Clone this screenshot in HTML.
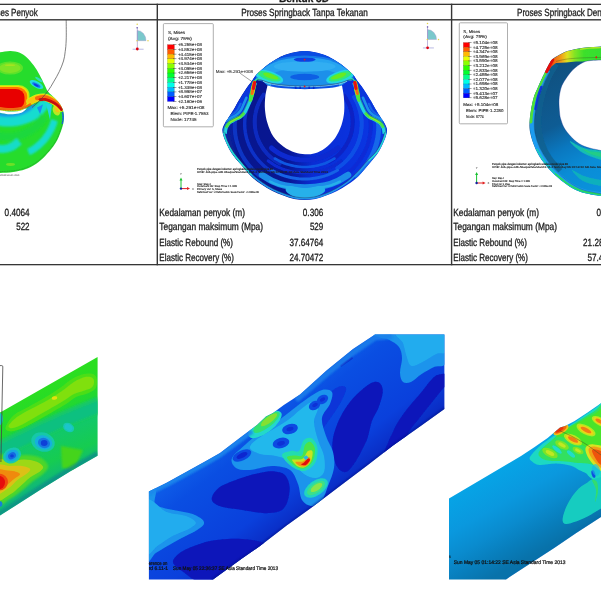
<!DOCTYPE html>
<html lang="id"><head><meta charset="utf-8"><title>Proses Springback</title>
<style>
html,body{margin:0;padding:0;background:#fff;overflow:hidden}
svg{display:block}
text{font-family:"Liberation Sans",sans-serif;text-rendering:geometricPrecision}
</style></head>
<body>
<svg width="601" height="601" viewBox="0 0 601 601">
<defs>
<filter id="b03" x="-10%" y="-10%" width="120%" height="120%"><feGaussianBlur stdDeviation="0.3"/></filter>
<filter id="b05" x="-10%" y="-10%" width="120%" height="120%"><feGaussianBlur stdDeviation="0.5"/></filter>
<filter id="b1" x="-20%" y="-20%" width="140%" height="140%"><feGaussianBlur stdDeviation="1"/></filter>
<filter id="b2" x="-30%" y="-30%" width="160%" height="160%"><feGaussianBlur stdDeviation="2"/></filter>
<filter id="b3" x="-30%" y="-30%" width="160%" height="160%"><feGaussianBlur stdDeviation="3"/></filter>
</defs>
<rect width="601" height="601" fill="#fff"/>
<g id="tbl" fill="#363636">
<rect x="0" y="3.7" width="601" height="1.3"/>
<rect x="0" y="19.1" width="601" height="1.4"/>
<rect x="0" y="264" width="601" height="1.3"/>
<rect x="156.6" y="3.7" width="1.4" height="261.6"/>
<rect x="450.9" y="3.7" width="1.4" height="261.6"/>
</g>
<g id="ttxt" font-family="'Liberation Sans', sans-serif" fill="#1c1c1c" stroke="#1c1c1c" stroke-width="0.3">
<text x="304.5" y="16.2" font-size="10.4" text-anchor="middle" textLength="126.6" lengthAdjust="spacingAndGlyphs" fill="#1a1a1a">Proses Springback Tanpa Tekanan</text>
<text x="37.8" y="16.2" font-size="10.4" text-anchor="end" textLength="53.8" lengthAdjust="spacingAndGlyphs" fill="#1a1a1a">Proses Penyok</text>
<text x="517" y="16.2" font-size="10.4" textLength="130.8" lengthAdjust="spacingAndGlyphs" fill="#1a1a1a">Proses Springback Dengan Tekanan</text>
<text x="279" y="1.6" font-size="10.5" textLength="50" lengthAdjust="spacingAndGlyphs" fill="#1a1a1a" font-weight="bold">Bentuk 3D</text>
<text x="159.3" y="215.5" font-size="10.4" textLength="85.7" lengthAdjust="spacingAndGlyphs" fill="#1a1a1a">Kedalaman penyok (m)</text>
<text x="159.3" y="230.2" font-size="10.4" textLength="103.7" lengthAdjust="spacingAndGlyphs" fill="#1a1a1a">Tegangan maksimum (Mpa)</text>
<text x="159.3" y="245.6" font-size="10.4" textLength="73.7" lengthAdjust="spacingAndGlyphs" fill="#1a1a1a">Elastic Rebound (%)</text>
<text x="159.3" y="260.9" font-size="10.4" textLength="74.6" lengthAdjust="spacingAndGlyphs" fill="#1a1a1a">Elastic Recovery (%)</text>
<text x="453.3" y="215.5" font-size="10.4" textLength="85.7" lengthAdjust="spacingAndGlyphs" fill="#1a1a1a">Kedalaman penyok (m)</text>
<text x="453.3" y="230.2" font-size="10.4" textLength="103.7" lengthAdjust="spacingAndGlyphs" fill="#1a1a1a">Tegangan maksimum (Mpa)</text>
<text x="453.3" y="245.6" font-size="10.4" textLength="73.7" lengthAdjust="spacingAndGlyphs" fill="#1a1a1a">Elastic Rebound (%)</text>
<text x="453.3" y="260.9" font-size="10.4" textLength="74.6" lengthAdjust="spacingAndGlyphs" fill="#1a1a1a">Elastic Recovery (%)</text>
<text x="29.6" y="215.5" font-size="10.4" text-anchor="end" textLength="25" lengthAdjust="spacingAndGlyphs" fill="#1a1a1a">0.4064</text>
<text x="29.6" y="230.2" font-size="10.4" text-anchor="end" textLength="13.4" lengthAdjust="spacingAndGlyphs" fill="#1a1a1a">522</text>
<text x="323.3" y="215.5" font-size="10.4" text-anchor="end" textLength="20.5" lengthAdjust="spacingAndGlyphs" fill="#1a1a1a">0.306</text>
<text x="323.3" y="230.2" font-size="10.4" text-anchor="end" textLength="13.4" lengthAdjust="spacingAndGlyphs" fill="#1a1a1a">529</text>
<text x="323.3" y="245.6" font-size="10.4" text-anchor="end" textLength="33.9" lengthAdjust="spacingAndGlyphs" fill="#1a1a1a">37.64764</text>
<text x="323.3" y="260.9" font-size="10.4" text-anchor="end" textLength="33.9" lengthAdjust="spacingAndGlyphs" fill="#1a1a1a">24.70472</text>
<text x="617" y="215.5" font-size="10.4" text-anchor="end" textLength="20.5" lengthAdjust="spacingAndGlyphs" fill="#1a1a1a">0.254</text>
<text x="617" y="230.2" font-size="10.4" text-anchor="end" textLength="13.4" lengthAdjust="spacingAndGlyphs" fill="#1a1a1a">510</text>
<text x="617" y="245.6" font-size="10.4" text-anchor="end" textLength="33.9" lengthAdjust="spacingAndGlyphs" fill="#1a1a1a">21.28571</text>
<text x="617" y="260.9" font-size="10.4" text-anchor="end" textLength="29.5" lengthAdjust="spacingAndGlyphs" fill="#1a1a1a">57.4468</text>
</g>
<g id="p1">
<clipPath id="c1"><path d="M-6 52.6C-5 52.5 -2.8 52.5 0 52.2C2.8 51.9 7.2 50.9 10.5 51C13.8 51.1 17.1 51.7 19.8 52.8C22.5 53.9 24.5 55.4 26.8 57.5C29.1 59.6 31.7 62.7 33.8 65.6C35.9 68.5 37.9 71.8 39.6 74.9C41.4 78 42.9 81.6 44.3 84.3C45.7 87 46.4 89.3 47.8 91.2C49.1 93.1 50.7 94.2 52.4 95.9C54.1 97.7 56.5 99.6 58.2 101.7C59.9 103.8 61.5 106.2 62.5 108.8C63.5 111.4 64 114.3 64 117.3C64 120.3 63.4 123.3 62.5 126.6C61.6 129.9 60.1 134 58.6 137.3C57.1 140.6 55.4 143.5 53.2 146.6C51 149.7 48.1 153 45.2 155.9C42.3 158.8 39.2 161.7 35.9 163.9C32.6 166.1 29.1 167.9 25.3 169.2C21.5 170.5 17.5 171.3 13.3 171.9C9.1 172.5 3.2 172.7 0 172.9C-3.2 173.1 -5 173 -6 173Z"/></clipPath>
<path d="M-6 52.6C-5 52.5 -2.8 52.5 0 52.2C2.8 51.9 7.2 50.9 10.5 51C13.8 51.1 17.1 51.7 19.8 52.8C22.5 53.9 24.5 55.4 26.8 57.5C29.1 59.6 31.7 62.7 33.8 65.6C35.9 68.5 37.9 71.8 39.6 74.9C41.4 78 42.9 81.6 44.3 84.3C45.7 87 46.4 89.3 47.8 91.2C49.1 93.1 50.7 94.2 52.4 95.9C54.1 97.7 56.5 99.6 58.2 101.7C59.9 103.8 61.5 106.2 62.5 108.8C63.5 111.4 64 114.3 64 117.3C64 120.3 63.4 123.3 62.5 126.6C61.6 129.9 60.1 134 58.6 137.3C57.1 140.6 55.4 143.5 53.2 146.6C51 149.7 48.1 153 45.2 155.9C42.3 158.8 39.2 161.7 35.9 163.9C32.6 166.1 29.1 167.9 25.3 169.2C21.5 170.5 17.5 171.3 13.3 171.9C9.1 172.5 3.2 172.7 0 172.9C-3.2 173.1 -5 173 -6 173Z" fill="#26dc2c"/>
<g clip-path="url(#c1)">
<g filter="url(#b05)">
<ellipse cx="10" cy="68" rx="13" ry="6.6" fill="#5ce22a"/>
<ellipse cx="10" cy="68" rx="10.5" ry="5" fill="#7ee426"/>
<ellipse cx="10" cy="65.2" rx="5" ry="0.9" fill="#a4e420"/>
</g>
<g filter="url(#b1)">
<path d="M46 95C45.8 96.1 45.6 99.3 44.8 101.4C44.1 103.4 42.9 105.5 41.4 107.3C40 109.2 38.1 111 36 112.6C33.9 114.1 31.5 115.6 28.9 116.7C26.3 117.9 23.4 118.9 20.5 119.6C17.5 120.3 14.4 120.7 11.3 120.9C8.2 121.1 5 121 1.9 120.7C-1.1 120.3 -4.2 119.7 -7.1 118.9C-9.9 118 -12.7 116.9 -15.1 115.6C-17.6 114.3 -19.9 112.8 -21.8 111.1C-23.7 109.5 -25.4 107.6 -26.7 105.6C-27.9 103.7 -29 100.5 -29.4 99.5" fill="none" stroke="#16dcd0" stroke-width="11"/>
<path d="M44.3 115.6C43.6 116.7 41.8 119.9 40.3 121.9C38.7 123.8 36.9 125.7 35 127.3C33.1 128.9 31 130.4 28.8 131.6C26.5 132.9 24.1 133.9 21.7 134.8C19.2 135.6 16.7 136.2 14.1 136.6C11.5 136.9 8.9 137.1 6.3 137C3.7 136.9 1 136.5 -1.5 135.9C-4 135.4 -6.5 134.6 -8.9 133.5C-11.3 132.5 -13.6 131.3 -15.7 129.8C-17.8 128.4 -19.7 126.8 -21.5 125C-23.2 123.2 -24.8 121.3 -26.2 119.2C-27.5 117.1 -29 113.7 -29.6 112.7" fill="none" stroke="#1cd83c" stroke-width="8"/>
<path d="M19.2 141.2C18.5 141.8 16.3 143.9 14.7 145C13.1 146 11.4 146.9 9.8 147.5C8.1 148.2 6.3 148.6 4.6 148.8C2.9 149.1 1.1 149.1 -0.6 148.8C-2.3 148.6 -4.1 148.2 -5.8 147.5C-7.4 146.9 -9.1 146 -10.7 145C-12.3 143.9 -13.8 142.7 -15.2 141.2C-16.6 139.8 -18 138.2 -19.2 136.4C-20.4 134.6 -21.6 132.7 -22.6 130.7C-23.6 128.6 -24.5 126.4 -25.2 124.2C-25.9 121.9 -26.5 119.5 -27 117.1C-27.4 114.7 -27.7 111 -27.9 109.7" fill="none" stroke="#14dcc8" stroke-width="8"/>
<path d="M54.5 120.1C54.3 120.7 53.8 122.3 53.5 123.5C53.1 124.6 52.7 125.7 52.2 126.7C51.8 127.8 51.3 128.9 50.7 129.9C50.2 131 49.6 132 49 133C48.4 134 47.8 135 47.1 136C46.4 136.9 45.7 137.9 45 138.8C44.2 139.7 43.5 140.6 42.6 141.5C41.8 142.3 41 143.2 40.1 144C39.3 144.8 38.4 145.6 37.4 146.3C36.5 147 35.5 147.8 34.6 148.5C33.6 149.1 32.6 149.8 31.6 150.4C30.5 151 28.9 151.9 28.4 152.1" fill="none" stroke="#16dcd0" stroke-width="7"/>
<path d="M34.3 103.8C33.9 104.4 32.7 106.1 31.6 107.1C30.5 108.2 29.2 109.2 27.8 110C26.4 110.9 24.7 111.7 23 112.3C21.3 113 19.5 113.6 17.6 114C15.7 114.4 13.7 114.7 11.7 114.9C9.7 115 7.6 115 5.6 114.9C3.5 114.8 1.5 114.6 -0.4 114.2C-2.3 113.8 -4.3 113.3 -6 112.7C-7.7 112.1 -9.4 111.4 -10.9 110.5C-12.4 109.7 -13.8 108.8 -14.9 107.8C-16.1 106.7 -17.1 105.6 -17.9 104.5C-18.6 103.4 -19.3 101.5 -19.6 101" fill="none" stroke="#1494ec" stroke-width="3.5"/>
</g>
<g filter="url(#b05)">
<ellipse cx="10.5" cy="164.5" rx="4.5" ry="1.4" fill="#6ee028"/>
<path d="M37 107.5 L43 104.5 L40 114Z" fill="#1c8cf0"/>
<path d="M46 103.5 L52 104.5 L50 120Z" fill="#22d4e0"/>
<ellipse cx="56.5" cy="110.5" rx="3.6" ry="5.2" fill="#b8e820" transform="rotate(-20 56.5 110.5)"/>
<ellipse cx="57.2" cy="109" rx="2.4" ry="3.4" fill="#f0c418" transform="rotate(-20 57.2 109)"/>
<path d="M62.6 112C62.7 113 63.2 116 63.2 118C63.2 120 62.5 123 62.4 124" fill="none" stroke="#1c70f0" stroke-width="1.6"/>
<rect x="-20" y="85" width="49.5" height="26" rx="11" ry="10" fill="#b4ea14"/>
<rect x="-20" y="86" width="48.4" height="24.5" rx="10.5" ry="9.5" fill="#f4e000"/>
<rect x="-20" y="87" width="47.2" height="23" rx="10" ry="9" fill="#ff7400"/>
<rect x="-20" y="89" width="44.5" height="20" rx="9" ry="8" fill="#e80000"/>
<ellipse cx="36.5" cy="84.5" rx="7.5" ry="3.2" fill="#24dcd8" transform="rotate(28 36.5 84.5)"/>
<ellipse cx="36.3" cy="85" rx="4.6" ry="1.6" fill="#1470f0" transform="rotate(28 36.3 85)"/>
<ellipse cx="36.2" cy="85.2" rx="2.6" ry="0.9" fill="#0a3ce0" transform="rotate(28 36.2 85.2)"/>
<ellipse cx="39" cy="79.5" rx="4.5" ry="1.2" fill="#30dcb8" transform="rotate(35 39 79.5)"/>
<path d="M30 101.5C31.2 101 34.7 98.9 37 98.2C39.3 97.5 41.7 97 44 97.2C46.3 97.4 48.8 98.5 51 99.6C53.2 100.6 55.2 102.1 57 103.5C58.8 104.9 60.8 107.2 61.5 108" fill="none" stroke="#d8ec18" stroke-width="7.5" stroke-linecap="round"/>
<path d="M30 101.5C31.2 101 34.7 98.9 37 98.2C39.3 97.5 41.7 97 44 97.2C46.3 97.4 48.8 98.5 51 99.6C53.2 100.6 55.2 102.1 57 103.5C58.8 104.9 60.8 107.2 61.5 108" fill="none" stroke="#f8c808" stroke-width="5.6" stroke-linecap="round"/>
<path d="M37 98.2C38.2 98 41.7 97 44 97.2C46.3 97.4 48.8 98.5 51 99.6C53.2 100.6 55.2 102.1 57 103.5C58.8 104.9 60.8 107.2 61.5 108" fill="none" stroke="#f86808" stroke-width="4.2" stroke-linecap="round"/>
<path d="M40 99.6C40.8 99.6 43.2 99.1 45 99.4C46.8 99.7 49 100.5 51 101.4C53 102.3 55.2 103.5 57 104.8C58.8 106.1 60.8 108.7 61.5 109.5" fill="none" stroke="#d40808" stroke-width="2.8" stroke-linecap="round"/>
</g>
<path d="M-2 107.8C-0.3 108 4.7 109.1 8 109.2C11.3 109.3 15 109 18 108.6C21 108.2 23.8 107.4 26 106.6C28.2 105.8 30.2 104.4 31 104" fill="none" stroke="#ee6a10" stroke-width="2.2"/>
<path d="M-2 110C-0.7 110.2 3.3 111 6 111.2C8.7 111.4 11.5 111.5 14 111.4C16.5 111.3 18.9 110.9 21 110.4C23.1 109.9 26.3 108.1 26.5 108.4C26.7 108.7 23.9 111.5 22 112.4C20.1 113.3 17.3 113.7 15 114C12.7 114.3 10.8 114.5 8 114.2C5.2 113.9 -0.3 112.6 -2 112.3Z" fill="#fff"/>
<path d="M-2 109.6C-0.3 109.8 4.7 110.5 8 110.6C11.3 110.7 15 110.4 18 110C21 109.6 23.5 109 26 108C28.5 107 30.7 105.3 33 104.2C35.3 103.1 37.7 102 40 101.4C42.3 100.8 44.7 100.5 47 100.8C49.3 101.1 51.9 102.2 54 103.2C56.1 104.2 58.1 105.5 59.5 107C60.9 108.5 62 110.7 62.6 112.5C63.2 114.3 63.1 115.7 62.9 118C62.7 120.3 62.4 123.4 61.5 126.6C60.6 129.8 59.1 134 57.6 137.3C56.1 140.6 54.4 143.4 52.2 146.4C50 149.4 47.1 152.6 44.3 155.4C41.5 158.2 38.4 161 35.2 163.1C32 165.2 28.5 166.9 24.9 168.2C21.2 169.5 17.8 170.2 13.3 170.8C8.8 171.4 0.6 171.6 -2 171.8" fill="none" stroke="#2a3a30" stroke-width="0.5" opacity="0.6" stroke-dasharray="1.2 0.5"/>
</g>
<path d="M66.2 20C66.2 23.3 66.4 34.7 66.2 40C66 45.3 65.7 48.1 65.2 51.6C64.8 55.1 64.5 57.7 63.5 61C62.5 64.3 61 67.9 59.4 71.4C57.8 74.9 55.5 78.6 53.6 81.9C51.7 85.2 50.1 88.1 47.8 91.2C45.5 94.3 42.2 97.9 39.6 100.6C37 103.3 33.3 106.3 32 107.5" fill="none" stroke="#4a4a4a" stroke-width="0.7"/>
</g>
<g id="p2">
<clipPath id="c2"><path d="M304.7 51C308.1 51 311.5 51.5 314.9 52.2C318.3 52.9 321.9 53.9 324.9 55C327.9 56.1 330.3 57.5 332.9 59C335.5 60.5 338.3 62.2 340.7 64C343.1 65.8 345.4 67.8 347.4 69.5C349.4 71.2 351.2 72.6 352.9 74.5C354.6 76.4 356 79.1 357.4 81C358.8 82.9 360.1 84.2 361.4 86C362.7 87.8 363.9 89.7 365.4 92C366.9 94.3 368.7 97.2 370.4 100C372.1 102.8 373.7 106.2 375.4 109C377.1 111.8 378.9 114.7 380.4 117C381.9 119.3 383.3 121 384.4 123C385.5 125 386.6 127 386.9 129C387.2 131 386.8 132.8 386.2 135C385.6 137.2 384.8 139.4 383.4 142.5C382 145.6 380.1 149.8 377.8 153.3C375.5 156.8 372.6 159.7 369.4 163.5C366.2 167.3 362.2 172.5 358.6 176C355 179.5 351.4 182.1 347.8 184.6C344.2 187.1 340.6 189.2 337 191C333.4 192.8 329.7 194.3 326.1 195.6C322.5 196.9 319 198.2 315.4 198.9C311.8 199.6 308.3 200 304.7 200C301.1 200 297.6 199.6 294 198.9C290.4 198.2 286.9 196.9 283.3 195.6C279.7 194.3 276 192.8 272.4 191C268.8 189.2 265.2 187.1 261.6 184.6C258 182.1 254.4 179.5 250.8 176C247.2 172.5 243.2 167.3 240 163.5C236.8 159.7 233.9 156.8 231.6 153.3C229.3 149.8 227.4 145.6 226 142.5C224.6 139.4 223.8 137.2 223.2 135C222.6 132.8 222.2 131 222.5 129C222.8 127 223.9 125 225 123C226.1 121 227.5 119.3 229 117C230.5 114.7 232.3 111.8 234 109C235.7 106.2 237.3 102.8 239 100C240.7 97.2 242.5 94.3 244 92C245.5 89.7 246.7 87.8 248 86C249.3 84.2 250.6 82.9 252 81C253.4 79.1 254.8 76.4 256.5 74.5C258.2 72.6 260 71.2 262 69.5C264 67.8 266.3 65.8 268.7 64C271.1 62.2 273.9 60.5 276.5 59C279.1 57.5 281.5 56.1 284.5 55C287.5 53.9 291.1 52.9 294.5 52.2C297.9 51.5 301.3 51 304.7 51Z"/></clipPath>
<linearGradient id="g2in" x1="222" x2="387" y1="0" y2="0" gradientUnits="userSpaceOnUse"><stop offset="0" stop-color="#0a2ab8"/><stop offset="0.1" stop-color="#08168c"/><stop offset="0.4" stop-color="#081694"/><stop offset="0.55" stop-color="#0a2cd4"/><stop offset="1" stop-color="#0a38e6"/></linearGradient>
<path d="M304.7 51C308.1 51 311.5 51.5 314.9 52.2C318.3 52.9 321.9 53.9 324.9 55C327.9 56.1 330.3 57.5 332.9 59C335.5 60.5 338.3 62.2 340.7 64C343.1 65.8 345.4 67.8 347.4 69.5C349.4 71.2 351.2 72.6 352.9 74.5C354.6 76.4 356 79.1 357.4 81C358.8 82.9 360.1 84.2 361.4 86C362.7 87.8 363.9 89.7 365.4 92C366.9 94.3 368.7 97.2 370.4 100C372.1 102.8 373.7 106.2 375.4 109C377.1 111.8 378.9 114.7 380.4 117C381.9 119.3 383.3 121 384.4 123C385.5 125 386.6 127 386.9 129C387.2 131 386.8 132.8 386.2 135C385.6 137.2 384.8 139.4 383.4 142.5C382 145.6 380.1 149.8 377.8 153.3C375.5 156.8 372.6 159.7 369.4 163.5C366.2 167.3 362.2 172.5 358.6 176C355 179.5 351.4 182.1 347.8 184.6C344.2 187.1 340.6 189.2 337 191C333.4 192.8 329.7 194.3 326.1 195.6C322.5 196.9 319 198.2 315.4 198.9C311.8 199.6 308.3 200 304.7 200C301.1 200 297.6 199.6 294 198.9C290.4 198.2 286.9 196.9 283.3 195.6C279.7 194.3 276 192.8 272.4 191C268.8 189.2 265.2 187.1 261.6 184.6C258 182.1 254.4 179.5 250.8 176C247.2 172.5 243.2 167.3 240 163.5C236.8 159.7 233.9 156.8 231.6 153.3C229.3 149.8 227.4 145.6 226 142.5C224.6 139.4 223.8 137.2 223.2 135C222.6 132.8 222.2 131 222.5 129C222.8 127 223.9 125 225 123C226.1 121 227.5 119.3 229 117C230.5 114.7 232.3 111.8 234 109C235.7 106.2 237.3 102.8 239 100C240.7 97.2 242.5 94.3 244 92C245.5 89.7 246.7 87.8 248 86C249.3 84.2 250.6 82.9 252 81C253.4 79.1 254.8 76.4 256.5 74.5C258.2 72.6 260 71.2 262 69.5C264 67.8 266.3 65.8 268.7 64C271.1 62.2 273.9 60.5 276.5 59C279.1 57.5 281.5 56.1 284.5 55C287.5 53.9 291.1 52.9 294.5 52.2C297.9 51.5 301.3 51 304.7 51Z" fill="url(#g2in)"/>
<g clip-path="url(#c2)">
<g filter="url(#b05)">
<path d="M279.7 163.6C278.7 163 275.8 161.2 274 159.9C272.2 158.5 270.4 157 268.8 155.4C267.2 153.9 265.7 152.2 264.4 150.4C263 148.6 261.8 146.7 260.7 144.8C259.6 142.8 258.6 140.8 257.8 138.7C257 136.7 256.4 134.5 255.9 132.4C255.4 130.2 255 128 254.9 125.8C254.7 123.6 254.7 121.4 254.8 119.2C254.9 117 255.2 114.8 255.7 112.6C256.1 110.5 256.7 108.3 257.5 106.2C258.2 104.2 259.1 102.1 260.2 100.1C261.2 98.2 263.1 95.4 263.7 94.5" fill="none" stroke="#0a2cc0" stroke-width="4" stroke-linecap="round"/>
<path d="M270.3 170.7C269.4 170 266.5 168 264.8 166.6C263.1 165.1 261.4 163.5 259.9 161.9C258.3 160.2 256.9 158.5 255.6 156.7C254.2 154.9 253 153 251.9 151.1C250.8 149.1 249.8 147.1 248.9 145C248.1 143 247.3 140.9 246.7 138.8C246.1 136.6 245.7 134.4 245.3 132.3C245 130.1 244.8 127.9 244.7 125.7C244.7 123.5 244.7 121.2 244.9 119C245.1 116.8 245.5 114.6 245.9 112.5C246.4 110.3 247 108.2 247.7 106.1C248.5 104 249.9 100.9 250.3 99.9" fill="none" stroke="#0a30c8" stroke-width="3.5" stroke-linecap="round"/>
<path d="M259.7 175.8C258.8 175 256.1 172.9 254.5 171.3C252.8 169.7 251.3 168 249.8 166.3C248.3 164.6 246.9 162.8 245.7 160.9C244.4 159.1 243.2 157.1 242.1 155.2C241.1 153.2 240.1 151.2 239.3 149.1C238.4 147.1 237.7 145 237.1 142.8C236.5 140.7 236 138.5 235.6 136.4C235.2 134.2 235 132 234.8 129.8C234.7 127.6 234.7 125.4 234.8 123.2C234.9 121 235.1 118.8 235.4 116.6C235.8 114.4 236.2 112.2 236.8 110.1C237.4 108 238.6 104.8 238.9 103.8" fill="none" stroke="#0c36c4" stroke-width="4" stroke-linecap="round"/>
<path d="M238.9 162C238.4 161.2 236.9 158.7 236.1 157C235.2 155.4 234.4 153.6 233.7 151.9C232.9 150.2 232.3 148.4 231.7 146.6C231.2 144.8 230.7 143 230.3 141.2C229.9 139.3 229.5 137.5 229.3 135.6C229 133.8 228.9 131.9 228.8 130.1C228.7 128.2 228.7 126.3 228.8 124.5C228.8 122.6 229 120.7 229.2 118.9C229.4 117 229.8 115.2 230.2 113.3C230.6 111.5 231 109.7 231.6 107.9C232.1 106.1 232.8 104.3 233.5 102.6C234.2 100.8 235.4 98.3 235.8 97.4" fill="none" stroke="#0a2098" stroke-width="3" stroke-linecap="round"/>
<path d="M344 95.6C344.6 96.5 346.4 99.2 347.4 101.1C348.4 102.9 349.3 104.9 350 106.9C350.8 108.9 351.3 111 351.8 113C352.2 115.1 352.5 117.2 352.6 119.3C352.7 121.4 352.7 123.6 352.5 125.7C352.4 127.8 352 129.9 351.6 132C351.1 134 350.5 136.1 349.7 138C348.9 140 348 142 346.9 143.8C345.9 145.7 344.7 147.5 343.4 149.2C342.1 150.9 340.7 152.5 339.1 154.1C337.6 155.6 335.9 157 334.2 158.3C332.5 159.6 329.6 161.2 328.7 161.8" fill="none" stroke="#0a22c4" stroke-width="4" stroke-linecap="round"/>
<path d="M354.1 97C354.6 98 356.3 100.9 357.2 103C358.1 105 358.9 107.1 359.5 109.3C360.2 111.4 360.7 113.6 361 115.8C361.4 118 361.6 120.2 361.7 122.4C361.7 124.6 361.7 126.9 361.4 129.1C361.2 131.3 360.9 133.5 360.3 135.7C359.8 137.9 359.2 140 358.4 142.1C357.6 144.2 356.7 146.3 355.6 148.2C354.6 150.2 353.4 152.2 352.1 154C350.8 155.8 349.4 157.6 347.8 159.3C346.3 161 344.6 162.6 342.9 164.1C341.2 165.6 338.3 167.5 337.4 168.2" fill="none" stroke="#1050e6" stroke-width="4" stroke-linecap="round"/>
<path d="M364.5 99.8C365 100.8 366.4 103.9 367.2 106.1C368 108.2 368.6 110.4 369.1 112.6C369.7 114.8 370 117 370.3 119.3C370.6 121.5 370.7 123.8 370.7 126C370.7 128.2 370.6 130.5 370.3 132.7C370 135 369.7 137.2 369.1 139.4C368.6 141.6 368 143.8 367.2 145.9C366.4 148.1 365.5 150.2 364.5 152.2C363.5 154.2 362.4 156.2 361.1 158.2C359.9 160.1 358.5 162 357.1 163.7C355.6 165.5 354 167.2 352.4 168.9C350.7 170.5 348 172.7 347.1 173.5" fill="none" stroke="#0a2cd6" stroke-width="4" stroke-linecap="round"/>
<path d="M373.3 101.2C373.7 102.2 375 105.4 375.7 107.5C376.4 109.6 376.9 111.8 377.4 114C377.8 116.2 378.2 118.5 378.4 120.7C378.6 122.9 378.7 125.2 378.7 127.4C378.7 129.6 378.6 131.9 378.3 134.1C378.1 136.3 377.7 138.6 377.2 140.8C376.7 142.9 376.1 145.1 375.4 147.3C374.7 149.4 373.9 151.5 373 153.6C372.1 155.7 371 157.7 369.9 159.7C368.7 161.6 367.5 163.6 366.2 165.4C364.8 167.3 363.4 169.1 361.9 170.8C360.3 172.5 357.8 175 357 175.8" fill="none" stroke="#1468ea" stroke-width="5" stroke-linecap="round"/>
<path d="M337.9 148C337.2 148.6 334.9 150.4 333.3 151.5C331.7 152.6 330 153.6 328.2 154.5C326.4 155.4 324.6 156.2 322.7 156.9C320.8 157.6 318.8 158.1 316.9 158.6C314.9 159.1 312.9 159.4 310.8 159.6C308.8 159.9 306.7 160 304.7 160C302.7 160 300.6 159.9 298.6 159.6C296.5 159.4 294.5 159.1 292.5 158.6C290.6 158.1 288.6 157.6 286.7 156.9C284.8 156.2 283 155.4 281.2 154.5C279.4 153.6 277.7 152.6 276.1 151.5C274.5 150.4 272.2 148.6 271.5 148" fill="none" stroke="#0a2ad0" stroke-width="5" stroke-linecap="round"/>
<path d="M334.5 158.5C333.8 158.9 331.6 160.3 330 161C328.5 161.8 326.9 162.5 325.3 163.2C323.7 163.8 322 164.3 320.3 164.8C318.7 165.3 316.9 165.7 315.2 166C313.5 166.4 311.7 166.6 310 166.8C308.2 166.9 306.5 167 304.7 167C302.9 167 301.2 166.9 299.4 166.8C297.7 166.6 295.9 166.4 294.2 166C292.5 165.7 290.7 165.3 289.1 164.8C287.4 164.3 285.7 163.8 284.1 163.2C282.5 162.5 280.9 161.8 279.4 161C277.8 160.3 275.6 158.9 274.9 158.5" fill="none" stroke="#1058e4" stroke-width="2.6" stroke-linecap="round"/>
<path d="M341.3 160.8C340.5 161.4 337.9 163.3 336 164.4C334.2 165.6 332.3 166.6 330.3 167.5C328.3 168.4 326.3 169.2 324.2 169.9C322.1 170.6 320 171.1 317.8 171.6C315.7 172.1 313.5 172.4 311.3 172.6C309.1 172.9 306.9 173 304.7 173C302.5 173 300.3 172.9 298.1 172.6C295.9 172.4 293.7 172.1 291.6 171.6C289.4 171.1 287.3 170.6 285.2 169.9C283.1 169.2 281.1 168.4 279.1 167.5C277.1 166.6 275.2 165.6 273.4 164.4C271.5 163.3 268.9 161.4 268.1 160.8" fill="none" stroke="#0a2cd0" stroke-width="3" stroke-linecap="round"/>
<path d="M337.6 170.3C336.7 170.8 334.2 172.1 332.5 172.9C330.8 173.7 329 174.5 327.3 175.1C325.5 175.7 323.6 176.3 321.8 176.8C319.9 177.3 318.1 177.7 316.2 178C314.3 178.3 312.4 178.6 310.5 178.8C308.6 178.9 306.6 179 304.7 179C302.8 179 300.8 178.9 298.9 178.8C297 178.6 295.1 178.3 293.2 178C291.3 177.7 289.5 177.3 287.6 176.8C285.8 176.3 283.9 175.7 282.1 175.1C280.4 174.5 278.6 173.7 276.9 172.9C275.2 172.1 272.7 170.8 271.8 170.3" fill="none" stroke="#1262e6" stroke-width="3" stroke-linecap="round"/>
<path d="M262 175C263.7 176 268.2 179.2 272 181C275.8 182.8 279.5 184.4 285 185.5C290.5 186.6 298.3 187.5 305 187.5C311.7 187.5 319.5 186.6 325 185.5C330.5 184.4 334.2 182.8 338 181C341.8 179.2 346.3 176 348 175" fill="none" stroke="#1a8ce8" stroke-width="6.5" stroke-linecap="round"/>
<path d="M289 186C292.2 185.5 299.7 188 305 188C310.3 188 317.7 185.5 321 186C324.3 186.5 325.8 189.2 325 191C324.2 192.8 319.3 195.3 316 196.5C312.7 197.7 308.7 198 305 198C301.3 198 297.2 197.7 294 196.5C290.8 195.3 286.8 192.8 286 191C285.2 189.2 285.8 186.5 289 186Z" fill="#28b0ea"/>
<path d="M270 181.5C271.7 182.2 276.7 184.6 280 185.6C283.3 186.6 288.3 187.3 290 187.6" fill="none" stroke="#28b0ea" stroke-width="2.4" stroke-linecap="round"/>
<path d="M320 187.6C321.7 187.3 326.7 186.6 330 185.6C333.3 184.6 338.3 182.2 340 181.5" fill="none" stroke="#28b0ea" stroke-width="2.4" stroke-linecap="round"/>
</g>
<clipPath id="c2d"><path d="M249.5 87 L251 81 L255.5 74.5 L261 69.5 L267.7 64 L275.5 59 L283.5 55 L293.5 52.2 L304.7 50.6 L315.9 52.2 L325.9 55 L333.9 59 L341.7 64 L348.4 69.5 L353.9 74.5 L358.4 81 L360 87 L353 80 L347 81.5 L342 85.5 L335 87.2 L322 88.6 L305 89.2 L288 88.6 L275 87.2 L267.5 85.5 L263 81.5 L257 80Z"/></clipPath>
<g clip-path="url(#c2d)">
<path d="M249.5 87 L251 81 L255.5 74.5 L261 69.5 L267.7 64 L275.5 59 L283.5 55 L293.5 52.2 L304.7 50.6 L315.9 52.2 L325.9 55 L333.9 59 L341.7 64 L348.4 69.5 L353.9 74.5 L358.4 81 L360 87 L353 80 L347 81.5 L342 85.5 L335 87.2 L322 88.6 L305 89.2 L288 88.6 L275 87.2 L267.5 85.5 L263 81.5 L257 80Z" fill="#0a4ce2"/>
<g filter="url(#b05)">
<ellipse cx="304.7" cy="76" rx="49" ry="20.5" fill="#1478e8"/>
<ellipse cx="304.7" cy="75" rx="44" ry="17.5" fill="#28a4f0"/>
<ellipse cx="304.7" cy="78" rx="36" ry="10" fill="#1e90ea"/>
<ellipse cx="304.7" cy="66.5" rx="31" ry="5.2" fill="#30aef2"/>
<ellipse cx="304.7" cy="59.6" rx="11" ry="2.2" fill="#0a40e0"/>
<ellipse cx="304.7" cy="77" rx="14.5" ry="3.2" fill="#0e5ee4"/>
<path d="M254.2 82.5C254.9 81.9 256.9 79.9 258.7 79C260.4 78.1 263.7 77.3 264.7 77" fill="none" stroke="#2adcb0" stroke-width="3.4" stroke-linecap="round"/>
<ellipse cx="268.7" cy="76.5" rx="15" ry="5.6" fill="#22d6e2" transform="rotate(17 268.7 76.5)"/>
<ellipse cx="269.2" cy="76.3" rx="12" ry="3.8" fill="#30e878" transform="rotate(18 269.2 76.3)"/>
<ellipse cx="270.7" cy="76.2" rx="8" ry="2.3" fill="#68ea24" transform="rotate(19 270.7 76.2)"/>
<path d="M355.2 82.5C354.4 81.9 352.4 79.9 350.7 79C348.9 78.1 345.7 77.3 344.7 77" fill="none" stroke="#2adcb0" stroke-width="3.4" stroke-linecap="round"/>
<ellipse cx="340.7" cy="76.5" rx="15" ry="5.6" fill="#22d6e2" transform="rotate(-17 340.7 76.5)"/>
<ellipse cx="340.2" cy="76.3" rx="12" ry="3.8" fill="#30e878" transform="rotate(-18 340.2 76.3)"/>
<ellipse cx="338.7" cy="76.2" rx="8" ry="2.3" fill="#68ea24" transform="rotate(-19 338.7 76.2)"/>
</g>
</g>
<path d="M271 85C273.3 85.3 279.3 86.5 285 87C290.7 87.5 298.3 87.8 305 87.8C311.7 87.8 319.3 87.5 325 87C330.7 86.5 336.7 85.3 339 85" fill="none" stroke="#0a4ee4" stroke-width="2.8"/>
<path d="M263 81.3C264.3 81.7 267.3 83.1 271 83.9C274.7 84.7 279.3 85.4 285 85.9C290.7 86.4 298.3 86.7 305 86.7C311.7 86.7 319.3 86.4 325 85.9C330.7 85.4 335.3 84.7 339 83.9C342.7 83.1 345.7 81.7 347 81.3" fill="none" stroke="#8adcf0" stroke-width="0.9"/>
<path d="M257 79.2C258 79.4 260.7 79.9 263 80.6C265.3 81.3 267.3 82.4 271 83.2C274.7 84 279.3 84.7 285 85.2C290.7 85.7 298.3 86 305 86C311.7 86 319.3 85.7 325 85.2C330.7 84.7 335.3 84 339 83.2C342.7 82.4 344.7 81.3 347 80.6C349.3 79.9 352 79.4 353 79.2" fill="none" stroke="#2a3a4a" stroke-width="0.45"/>
<rect x="294.9" y="86.6" width="1.6" height="2.4" fill="#0a2cc8"/>
<rect x="299.4" y="86.6" width="1.6" height="2.4" fill="#0a2cc8"/>
<rect x="308.4" y="86.6" width="1.6" height="2.4" fill="#0a2cc8"/>
<rect x="312.9" y="86.6" width="1.6" height="2.4" fill="#0a2cc8"/>
<path d="M256.5 74.5 L252 81 L248 86 L244 92 L239 100 L234 109 L229 117 L225 123 L222.5 129 L223.2 135 L223.5 133 L224.5 127 L228 122 L233 119 L239 116 L243 112 L246 106 L249 99 L251 92 L252.4 86 L254 82Z" fill="#0a36dc"/>
<path d="M225.4 120.8C226.2 120.3 228.6 118.8 230.4 117.8C232.2 116.8 234.7 116 236.4 114.8C238.1 113.6 239.2 112.5 240.4 110.8C241.6 109.1 242.4 107 243.4 104.8C244.4 102.6 245.9 99 246.4 97.8" fill="none" stroke="#1c90ea" stroke-width="2.6" filter="url(#b05)" stroke-linecap="round"/>
<path d="M227.6 116.8C228.6 116.3 231.9 115 233.6 113.8C235.3 112.6 236.4 111.5 237.6 109.8C238.8 108.1 240.1 104.8 240.6 103.8" fill="none" stroke="#1260e6" stroke-width="2.2" filter="url(#b05)" stroke-linecap="round"/>
<path d="M224.9 133.7C225.1 132.7 225.2 129.5 225.9 127.7C226.7 125.9 228 124 229.4 122.7C230.8 121.4 232.6 120.7 234.4 119.7C236.2 118.7 238.7 117.9 240.4 116.7C242.1 115.5 243.2 114.4 244.4 112.7C245.6 111 246.4 108.9 247.4 106.7C248.4 104.5 249.6 102 250.4 99.7C251.2 97.4 251.8 94.9 252.4 92.7C253 90.5 253.3 88.4 253.8 86.7C254.3 85 255.1 83.4 255.4 82.7" fill="none" stroke="#22d0e0" stroke-width="3.8" filter="url(#b03)"/>
<path d="M225.9 127.7C226.5 126.9 228 124 229.4 122.7C230.8 121.4 232.6 120.7 234.4 119.7C236.2 118.7 238.7 117.9 240.4 116.7C242.1 115.5 243.7 113.4 244.4 112.7" fill="none" stroke="#4ce444" stroke-width="2.8" filter="url(#b03)"/>
<path d="M229.4 122.7C230.2 122.2 232.6 120.7 234.4 119.7C236.2 118.7 239.4 117.2 240.4 116.7" fill="none" stroke="#8cea30" stroke-width="1.2" filter="url(#b03)"/>
<path d="M223.5 133C223.7 132 223.8 128.8 224.5 127C225.2 125.2 226.6 123.3 228 122C229.4 120.7 231.2 120 233 119C234.8 118 237.3 117.2 239 116C240.7 114.8 241.8 113.7 243 112C244.2 110.3 245 108.2 246 106C247 103.8 248.2 101.3 249 99C249.8 96.7 250.4 94.2 251 92C251.6 89.8 251.9 87.7 252.4 86C252.9 84.3 253.7 82.7 254 82" fill="none" stroke="#283848" stroke-width="0.45" opacity="0.85"/>
<path d="M352.9 74.5 L357.4 81 L361.4 86 L365.4 92 L370.4 100 L375.4 109 L380.4 117 L384.4 123 L386.9 129 L386.2 135 L385.9 133 L384.9 127 L381.4 122 L376.4 119 L370.4 116 L366.4 112 L363.4 106 L360.4 99 L358.4 92 L357 86 L355.4 82Z" fill="#0a36dc"/>
<path d="M384 120.8C383.2 120.3 380.8 118.8 379 117.8C377.2 116.8 374.7 116 373 114.8C371.3 113.6 370.2 112.5 369 110.8C367.8 109.1 367 107 366 104.8C365 102.6 363.5 99 363 97.8" fill="none" stroke="#1c90ea" stroke-width="2.6" filter="url(#b05)" stroke-linecap="round"/>
<path d="M381.8 116.8C380.8 116.3 377.5 115 375.8 113.8C374.1 112.6 373 111.5 371.8 109.8C370.6 108.1 369.3 104.8 368.8 103.8" fill="none" stroke="#1260e6" stroke-width="2.2" filter="url(#b05)" stroke-linecap="round"/>
<path d="M384.5 133.7C384.3 132.7 384.2 129.5 383.5 127.7C382.8 125.9 381.4 124 380 122.7C378.6 121.4 376.8 120.7 375 119.7C373.2 118.7 370.7 117.9 369 116.7C367.3 115.5 366.2 114.4 365 112.7C363.8 111 363 108.9 362 106.7C361 104.5 359.8 102 359 99.7C358.2 97.4 357.6 94.9 357 92.7C356.4 90.5 356.1 88.4 355.6 86.7C355.1 85 354.3 83.4 354 82.7" fill="none" stroke="#22d0e0" stroke-width="3.8" filter="url(#b03)"/>
<path d="M383.5 127.7C382.9 126.9 381.4 124 380 122.7C378.6 121.4 376.8 120.7 375 119.7C373.2 118.7 370.7 117.9 369 116.7C367.3 115.5 365.7 113.4 365 112.7" fill="none" stroke="#4ce444" stroke-width="2.8" filter="url(#b03)"/>
<path d="M380 122.7C379.2 122.2 376.8 120.7 375 119.7C373.2 118.7 370 117.2 369 116.7" fill="none" stroke="#8cea30" stroke-width="1.2" filter="url(#b03)"/>
<path d="M385.9 133C385.7 132 385.6 128.8 384.9 127C384.1 125.2 382.8 123.3 381.4 122C380 120.7 378.2 120 376.4 119C374.6 118 372.1 117.2 370.4 116C368.7 114.8 367.6 113.7 366.4 112C365.2 110.3 364.4 108.2 363.4 106C362.4 103.8 361.2 101.3 360.4 99C359.6 96.7 359 94.2 358.4 92C357.8 89.8 357.5 87.7 357 86C356.5 84.3 355.7 82.7 355.4 82" fill="none" stroke="#283848" stroke-width="0.45" opacity="0.85"/>
<path d="M223.8 133C224.3 134.4 225.2 138.2 226.6 141.5C228 144.8 230.1 148.9 232.5 152.5C234.9 156.1 237.8 159.4 241 163.2C244.2 166.9 248 171.6 251.6 175C255.2 178.4 258.7 181 262.3 183.5C265.9 186 269.4 188 273 189.8C276.6 191.6 280.3 193.1 283.8 194.4C287.3 195.7 290.7 196.9 294.2 197.6C297.7 198.3 301.3 198.7 304.9 198.7C308.4 198.7 312 198.3 315.5 197.6C319 196.9 322.5 195.8 326 194.4C329.5 193 333.1 191.2 336.7 189.2C340.3 187.2 343.8 185.1 347.4 182.4C350.9 179.7 354.4 176.4 358 172.8C361.6 169.2 365.6 164.2 368.7 160.8C371.8 157.4 374.5 155.7 376.9 152.5C379.2 149.3 381.4 144.8 382.8 141.5C384.2 138.2 385.1 134.4 385.6 133" fill="none" stroke="#1e96ea" stroke-width="1.8"/>
<path d="M223.8 133C224.3 134.4 225.2 138.2 226.6 141.5C228 144.8 230.1 148.9 232.5 152.5C234.9 156.1 237.8 159.4 241 163.2C244.2 166.9 249.8 173 251.6 175" fill="none" stroke="#22d8d0" stroke-width="1.6"/>
<path d="M368.7 160.8C370.1 159.4 374.5 155.7 376.9 152.5C379.2 149.3 381.4 144.8 382.8 141.5C384.2 138.2 385.1 134.4 385.6 133" fill="none" stroke="#22d8d0" stroke-width="1.4"/>
<path d="M224.8 132.1C225.2 133.5 226.1 137.3 227.5 140.6C229 143.8 231 148 233.4 151.6C235.7 155.2 238.6 158.5 241.8 162.3C244.9 166 248.7 170.7 252.2 174.1C255.7 177.5 259.3 180.1 262.8 182.6C266.3 185.1 269.8 187.1 273.4 188.9C276.9 190.7 280.6 192.2 284.1 193.5C287.5 194.8 290.9 196 294.3 196.7C297.8 197.4 301.4 197.8 304.9 197.8C308.4 197.8 311.9 197.4 315.4 196.7C318.8 196 322.3 194.9 325.7 193.5C329.2 192.1 332.8 190.3 336.3 188.3C339.8 186.3 343.4 184.2 346.9 181.5C350.4 178.8 353.9 175.5 357.4 171.9C360.9 168.3 364.8 163.3 367.9 159.9C371 156.5 373.7 154.8 376 151.6C378.4 148.4 380.4 143.8 381.9 140.6C383.3 137.3 384.2 133.5 384.6 132.1" fill="none" stroke="#30405a" stroke-width="0.4"/>
<path d="M254.6 82.6C254.4 83.4 253.8 85.7 253.4 87.5C253 89.3 252.5 91.5 252 93.5C251.5 95.5 250.5 98.5 250.2 99.5" fill="none" stroke="#4ce83c" stroke-width="4.6" stroke-linecap="round" filter="url(#b03)"/>
<path d="M254.6 82.6C254.4 83.4 253.8 85.7 253.4 87.5C253 89.3 252.2 92.5 252 93.5" fill="none" stroke="#f0d020" stroke-width="3.8" stroke-linecap="round" filter="url(#b03)"/>
<path d="M254.6 82.6C254.4 83.4 253.8 85.7 253.4 87.5C253 89.3 252.2 92.5 252 93.5" fill="none" stroke="#f07010" stroke-width="3" stroke-linecap="round"/>
<path d="M254.6 82.6 L253.4 88.3" fill="none" stroke="#e81010" stroke-width="3.2" stroke-linecap="round"/>
<path d="M354.8 82.6C355 83.4 355.6 85.7 356 87.5C356.4 89.3 356.9 91.5 357.4 93.5C357.9 95.5 358.9 98.5 359.2 99.5" fill="none" stroke="#4ce83c" stroke-width="4.6" stroke-linecap="round" filter="url(#b03)"/>
<path d="M354.8 82.6C355 83.4 355.6 85.7 356 87.5C356.4 89.3 357.2 92.5 357.4 93.5" fill="none" stroke="#f0d020" stroke-width="3.8" stroke-linecap="round" filter="url(#b03)"/>
<path d="M354.8 82.6C355 83.4 355.6 85.7 356 87.5C356.4 89.3 357.2 92.5 357.4 93.5" fill="none" stroke="#f07010" stroke-width="3" stroke-linecap="round"/>
<path d="M354.8 82.6 L356 88.3" fill="none" stroke="#e81010" stroke-width="3.2" stroke-linecap="round"/>
</g>
<path d="M342 85.5C342.3 87.3 343.4 92.2 343.8 96.6C344.2 100.9 344.6 106.9 344.2 111.6C343.8 116.3 343 120.6 341.5 125C340 129.4 337.8 134.3 335 138.2C332.2 142.1 328.3 145.7 325 148.2C321.7 150.7 318.3 152.2 315 153.2C311.7 154.2 308.3 154.4 305 154.3C301.7 154.2 298.6 153.9 295 152.6C291.4 151.3 286.9 149.3 283.3 146.6C279.7 143.9 275.9 140.5 273.3 136.6C270.7 132.7 268.9 127.7 267.5 123.3C266.1 118.9 265.4 114.5 265 110C264.6 105.5 264.9 100.7 265.3 96.6C265.7 92.5 267.1 87.3 267.5 85.5L267.5 85.5C268.8 85.8 271.6 86.7 275 87.2C278.4 87.7 283 88.3 288 88.6C293 88.9 299.3 89.2 305 89.2C310.7 89.2 317 88.9 322 88.6C327 88.3 331.7 87.7 335 87.2C338.3 86.7 340.8 85.8 342 85.5Z" fill="#fff"/>
<circle cx="304.6" cy="59.6" r="0.9" fill="#e81818"/>
<circle cx="304.6" cy="86.4" r="0.9" fill="#e81818"/>
</g>
<g id="p3">
<clipPath id="c3"><path d="M612 46C610.2 46.1 605.3 46.2 601 46.5C596.7 46.8 590.2 47.1 586 47.5C581.8 47.9 579.3 48.3 576 49C572.7 49.7 568.8 50.5 566 51.5C563.2 52.5 561.3 53.7 559 55C556.7 56.3 553.8 57.7 552 59.5C550.2 61.3 549.2 63.9 548 66C546.8 68.1 546.6 68.6 545 72C543.4 75.4 540.3 81.9 538.3 86.6C536.3 91.3 534.4 94.4 533 100C531.6 105.6 530.2 114.5 529.7 120C529.2 125.5 529.3 128.4 530.3 133.3C531.3 138.2 533.4 144.4 535.6 149.3C537.8 154.2 540.5 158.4 543.6 162.6C546.7 166.8 550.3 170.8 554.3 174.6C558.3 178.4 563.2 182.3 567.6 185.2C572 188.1 575.3 190.1 580.9 191.9C586.5 193.7 595.8 195.2 601 195.9C606.2 196.7 610.2 196.3 612 196.4Z"/></clipPath>
<linearGradient id="g3in" x1="540" y1="70" x2="601" y2="190" gradientUnits="userSpaceOnUse"><stop offset="0" stop-color="#10507e"/><stop offset="0.42" stop-color="#0e5c94"/><stop offset="0.6" stop-color="#0a78c0"/><stop offset="0.78" stop-color="#0a8cd6"/><stop offset="1" stop-color="#0a92dc"/></linearGradient>
<path d="M612 46C610.2 46.1 605.3 46.2 601 46.5C596.7 46.8 590.2 47.1 586 47.5C581.8 47.9 579.3 48.3 576 49C572.7 49.7 568.8 50.5 566 51.5C563.2 52.5 561.3 53.7 559 55C556.7 56.3 553.8 57.7 552 59.5C550.2 61.3 549.2 63.9 548 66C546.8 68.1 546.6 68.6 545 72C543.4 75.4 540.3 81.9 538.3 86.6C536.3 91.3 534.4 94.4 533 100C531.6 105.6 530.2 114.5 529.7 120C529.2 125.5 529.3 128.4 530.3 133.3C531.3 138.2 533.4 144.4 535.6 149.3C537.8 154.2 540.5 158.4 543.6 162.6C546.7 166.8 550.3 170.8 554.3 174.6C558.3 178.4 563.2 182.3 567.6 185.2C572 188.1 575.3 190.1 580.9 191.9C586.5 193.7 595.8 195.2 601 195.9C606.2 196.7 610.2 196.3 612 196.4Z" fill="url(#g3in)"/>
<g clip-path="url(#c3)">
<g filter="url(#b05)">
<path d="M556 64C554.8 66 551.2 71.3 549 76C546.8 80.7 544.7 86.3 543 92C541.3 97.7 539.8 104 539 110C538.2 116 538 122.3 538.5 128C539 133.7 540.2 139 542 144C543.8 149 546 153.5 549 158C552 162.5 558.2 168.8 560 171" fill="none" stroke="#12608e" stroke-width="6" opacity="0.8"/>
<path d="M570 141C570.8 140.9 576.7 145.1 580 146.5C583.3 147.9 584.7 148.6 590 149.5C595.3 150.4 608.3 149.9 612 152C615.7 154.1 614.3 160.8 612 162C609.7 163.2 602.7 160.4 598 159C593.3 157.6 587.8 155.5 584 153.5C580.2 151.5 577.3 149.1 575 147C572.7 144.9 569.2 141.1 570 141Z" fill="#12bcb4"/>
<path d="M582 148.5C582.7 148.2 587 150.6 592 151.5C597 152.4 608.7 152.8 612 154C615.3 155.2 614.3 158.6 612 159C609.7 159.4 602 157.6 598 156.6C594 155.6 590.7 154.3 588 153C585.3 151.7 581.3 148.8 582 148.5Z" fill="#20cc88"/>
<path d="M572 170C572.3 169.2 579.7 174.4 584 176C588.3 177.6 593.3 178.7 598 179.5C602.7 180.3 609.7 179.8 612 181C614.3 182.2 614.7 186.3 612 187C609.3 187.7 601 186.1 596 185C591 183.9 586 183 582 180.5C578 178 571.7 170.8 572 170Z" fill="#10b0bc"/>
<path d="M566 182C566.7 181.5 573.7 186.4 578 188C582.3 189.6 586.3 190.7 592 191.6C597.7 192.5 608.7 192.3 612 193.5C615.3 194.7 615.7 198.4 612 199C608.3 199.6 596.3 198.3 590 197C583.7 195.7 578 193.5 574 191C570 188.5 565.3 182.5 566 182Z" fill="#22cc70"/>
</g>
<path d="M548.2 70C547.3 71.8 544.5 77 542.7 81C541 85 539.2 89.5 537.7 94C536.2 98.5 534.6 103.5 533.7 108C532.8 112.5 532.4 116.8 532.2 121C532.1 125.2 531.9 128.7 532.8 133.3C533.7 137.9 535.6 144.1 537.8 148.8C540 153.6 542.7 157.7 545.8 161.8C548.9 166 552.5 170 556.4 173.7C560.4 177.4 565.1 181.3 569.5 184.2C573.9 187 577 189 582.5 190.8C588 192.6 598.9 194.1 602.2 194.8" fill="none" stroke="#1c9cf0" stroke-width="4.4"/>
<path d="M536.6 148.8C537.9 151 541.5 157.7 544.6 161.8C547.7 166 551.2 170 555.2 173.7C559.2 177.4 563.9 181.3 568.3 184.2C572.6 187 575.8 189 581.3 190.8C586.8 192.6 597.7 194.1 601 194.8" fill="none" stroke="#18c8c0" stroke-width="1.8"/>
<path d="M555.2 173.7C557.4 175.4 563.9 181.3 568.3 184.2C572.6 187 575.8 189 581.3 190.8C586.8 192.6 597.7 194.1 601 194.8" fill="none" stroke="#28d860" stroke-width="1.6"/>
<path d="M545.6 72.5C544.5 74.8 541.2 81.4 539.3 86C537.4 90.6 535.5 95.3 534.2 100C532.9 104.7 532 110.3 531.4 114C530.8 117.7 530.9 120.7 530.8 122" fill="none" stroke="#50e038" stroke-width="3.2" filter="url(#b05)" stroke-linecap="round"/>
<path d="M541.4 87C540.8 88.7 539 93.3 538 97C537 100.7 536 107 535.6 109" fill="none" stroke="#0c38e0" stroke-width="2.6" stroke-linecap="round"/>
<path d="M550.4 69.6C549.5 71.4 546.6 76.6 544.9 80.6C543.1 84.6 541.4 89.1 539.9 93.6C538.4 98.1 536.8 103.1 535.9 107.6C535 112.1 534.5 116.4 534.4 120.6C534.2 124.8 534.1 128.3 535 132.9C535.9 137.5 537.8 143.7 540 148.4C542.2 153.2 544.9 157.2 548 161.4C551.1 165.6 554.7 169.6 558.6 173.3C562.5 177 567.3 180.9 571.7 183.8C576 186.6 579.2 188.6 584.7 190.4C590.1 192.2 601.1 193.7 604.4 194.4" fill="none" stroke="#24404c" stroke-width="0.4" opacity="0.7"/>
<linearGradient id="g3b" x1="548" y1="0" x2="601" y2="0" gradientUnits="userSpaceOnUse"><stop offset="0" stop-color="#e81010"/><stop offset="0.1" stop-color="#f05c10"/><stop offset="0.25" stop-color="#f0a018"/><stop offset="0.36" stop-color="#e0e020"/><stop offset="0.5" stop-color="#84e424"/><stop offset="0.68" stop-color="#3ce02c"/><stop offset="1" stop-color="#34de30"/></linearGradient>
<path d="M612 46 L601 46.5 L586 47.5 L576 49 L566 51.5 L559 55 L552 59.5 L548 66 L545 72 L547.6 72.5 L551.5 66.5 L556 63 L566 62.5 L576 61.6 L584 61.6 L591 60.6 L601 60 L612 59.8Z" fill="url(#g3b)" filter="url(#b03)"/>
<path d="M580 49.2C581.7 49 586.5 48.3 590 48C593.5 47.7 599.2 47.4 601 47.3" fill="none" stroke="#a8e428" stroke-width="1.6" filter="url(#b05)"/>
<path d="M552.6 60C552.1 60.9 550.4 63.6 549.4 65.5C548.4 67.4 547.1 70.6 546.6 71.6" fill="none" stroke="#e40c0c" stroke-width="3.2" stroke-linecap="round"/>
<path d="M556 61.4C557.7 61 562 59.8 566 59.2C570 58.6 574.2 58.3 580 58C585.8 57.7 597.5 57.5 601 57.4" fill="none" stroke="#3a4a20" stroke-width="0.45" opacity="0.75"/>
</g>
<path d="M612 59.8C610.2 59.8 604.5 59.9 601 60C597.5 60.1 593.8 60.2 591 60.5C588.2 60.8 586.5 60.9 584 62C581.5 63.1 578.3 65.2 576 67C573.7 68.8 571.8 70.8 570 73C568.2 75.2 566.5 77.5 565 80C563.5 82.5 562 84.7 561 88C560 91.3 559.2 95.8 559 100C558.8 104.2 559.3 109.9 559.6 113.2C559.9 116.5 560.1 117.3 561 120C561.9 122.7 562.8 126 565 129.3C567.2 132.6 571 137.1 574.3 140C577.6 142.9 580.5 144.8 585 146.6C589.5 148.4 596.5 149.8 601 150.6C605.5 151.4 610.2 151.3 612 151.4Z" fill="#fff"/>
<path d="M601 60C599.3 60.1 593.8 60.2 591 60.5C588.2 60.8 586.5 60.9 584 62C581.5 63.1 578.3 65.2 576 67C573.7 68.8 571.8 70.8 570 73C568.2 75.2 566.5 77.5 565 80C563.5 82.5 562 84.7 561 88C560 91.3 559.2 95.8 559 100C558.8 104.2 559.3 109.9 559.6 113.2C559.9 116.5 560.1 117.3 561 120C561.9 122.7 562.8 126 565 129.3C567.2 132.6 571 137.1 574.3 140C577.6 142.9 580.5 144.8 585 146.6C589.5 148.4 598.3 149.9 601 150.6" fill="none" stroke="#0a2a90" stroke-width="0.5" opacity="0.7"/>
<ellipse cx="596.3" cy="57.3" rx="0.7" ry="1.3" fill="#e81818"/>
</g>
<g id="p4">
<clipPath id="c4"><path d="M-4 414.8 L3.7 410.4 L45.8 386.6 L97.6 357 L97.6 455.7 L70 471.5 L40 490 L15 506 L-4 518Z"/></clipPath>
<linearGradient id="g4" x1="40" y1="390" x2="75" y2="470" gradientUnits="userSpaceOnUse"><stop offset="0" stop-color="#2ade20"/><stop offset="0.3" stop-color="#22d830"/><stop offset="0.55" stop-color="#12c868"/><stop offset="0.8" stop-color="#16cc50"/><stop offset="1" stop-color="#10b878"/></linearGradient>
<path d="M-4 414.8 L3.7 410.4 L45.8 386.6 L97.6 357 L97.6 455.7 L70 471.5 L40 490 L15 506 L-4 518Z" fill="url(#g4)"/>
<g clip-path="url(#c4)">
<g filter="url(#b1)">
<path d="M-4 452C0 450 11.8 444 20 440C28.2 436 36.7 431.8 45 428C53.3 424.2 60.8 420.8 70 417C79.2 413.2 95 407 100 405" fill="none" stroke="#14c868" stroke-width="17"/>
<path d="M-4 453C0 451 11.8 445 20 441C28.2 437 36.7 432.8 45 429C53.3 425.2 60.8 421.8 70 418C79.2 414.2 95 408 100 406" fill="none" stroke="#10c080" stroke-width="11"/>
</g>
<g filter="url(#b05)">
<path d="M6 426C7.2 423.4 10 418.3 14 415C18 411.7 24.7 409 30 406C35.3 403 41 400 46 397C51 394 55.7 391 60 388C64.3 385 68 381.3 72 379C76 376.7 80.3 374.8 84 374C87.7 373.2 91.8 373.3 94 374.5C96.2 375.7 96.8 378.6 97 381C97.2 383.4 96.8 386.8 95 389C93.2 391.2 89.2 392.7 86 394C82.8 395.3 79.3 395.3 76 397C72.7 398.7 69.7 401.7 66 404C62.3 406.3 58.3 408.5 54 411C49.7 413.5 44.7 416.4 40 419C35.3 421.6 30.3 424.5 26 426.5C21.7 428.5 17.2 430.3 14 431C10.8 431.7 8.3 431.3 7 430.5C5.7 429.7 4.8 428.6 6 426Z" fill="#4cde18"/>
<path d="M9 425C10.2 423.2 13.2 419.8 17 417C20.8 414.2 26.8 411.3 32 408.5C37.2 405.7 43 402.9 48 400C53 397.1 57.7 394 62 391C66.3 388 70.2 384.3 74 382C77.8 379.7 81.9 377.7 85 377C88.1 376.3 91 377 92.5 378C94 379 94.2 381.3 94 383C93.8 384.7 92.8 386.7 91 388C89.2 389.3 85.8 390 83 391C80.2 392 77.2 392.4 74 394C70.8 395.6 67.7 398.2 64 400.5C60.3 402.8 56.3 405 52 407.5C47.7 410 42.5 412.9 38 415.5C33.5 418.1 28.8 421 25 423C21.2 425 17.5 426.7 15 427.5C12.5 428.3 11 428.4 10 428C9 427.6 7.8 426.8 9 425Z" fill="#80e010"/>
</g>
<g filter="url(#b1)">
<path d="M61 446 L83 450 L74 470 L62 468Z" fill="#44d41c"/>
<path d="M-6 457C-3.3 448.9 4.7 456.8 10 456.5C15.3 456.2 21 454.8 26 455C31 455.2 36.3 455.8 40 457.5C43.7 459.2 47.3 462.9 48 465.5C48.7 468.1 46.5 470.4 44 473C41.5 475.6 36.7 478.1 33 481C29.3 483.9 25.8 487.5 22 490.5C18.2 493.5 14.7 496.6 10 499C5.3 501.4 -3.3 512 -6 505C-8.7 498 -8.7 465.1 -6 457Z" fill="#4cd62c"/>
</g>
<g filter="url(#b05)">
<path d="M-6 461.5C-3.3 455 5 461.3 10 461C15 460.7 19.7 459.4 24 459.5C28.3 459.6 32.8 460.3 36 461.5C39.2 462.7 42.3 464.8 43 466.5C43.7 468.2 42.2 469.7 40 471.5C37.8 473.3 33.3 475 30 477.5C26.7 480 23.3 483.7 20 486.5C16.7 489.3 14.3 492.2 10 494.5C5.7 496.8 -3.3 505.5 -6 500C-8.7 494.5 -8.7 468 -6 461.5Z" fill="#9cd818"/>
<path d="M-6 466.5C-3.3 461.8 5.3 466.1 10 466C14.7 465.9 18.7 465.5 22 466C25.3 466.5 29.2 467.6 30 468.8C30.8 470.1 29 471.7 27 473.5C25 475.3 21.2 477 18 479.5C14.8 482 12 486.1 8 488.5C4 490.9 -3.7 497.7 -6 494C-8.3 490.3 -8.7 471.2 -6 466.5Z" fill="#dcc014"/>
<path d="M-6 470.5C-3.7 467.1 4.3 470.3 8 470.5C11.7 470.7 14 471.1 16 471.8C18 472.5 20.3 473.3 20 474.5C19.7 475.7 16.3 477.2 14 479C11.7 480.8 9.3 483.5 6 485.5C2.7 487.5 -4 493.5 -6 491C-8 488.5 -8.3 473.9 -6 470.5Z" fill="#f08a10"/>
</g>
<g filter="url(#b05)">
<ellipse cx="-1" cy="482" rx="9" ry="8.6" fill="#f04810"/>
<ellipse cx="-2" cy="482.5" rx="7" ry="7" fill="#e60808"/>
<ellipse cx="54.5" cy="398" rx="2.8" ry="1.7" fill="#e4e010" transform="rotate(-10 54.5 398)"/>
<ellipse cx="68.6" cy="427.5" rx="5.8" ry="4.4" fill="#16c8b4" transform="rotate(30 68.6 427.5)"/>
<ellipse cx="68.6" cy="427.5" rx="4" ry="3" fill="#1cc4cc" transform="rotate(30 68.6 427.5)"/>
<ellipse cx="43" cy="442" rx="12" ry="9.5" fill="#14c8a8" transform="rotate(20 43 442)"/>
<ellipse cx="43.5" cy="442.5" rx="9" ry="7" fill="#18b0dc" transform="rotate(20 43.5 442.5)"/>
<ellipse cx="44" cy="443" rx="6.2" ry="5" fill="#1478e0" transform="rotate(20 44 443)"/>
<ellipse cx="44.2" cy="443" rx="3.4" ry="3" fill="#1040d8"/>
<ellipse cx="12" cy="455.5" rx="9.5" ry="7.5" fill="#14c8b0" transform="rotate(-30 12 455.5)"/>
<ellipse cx="12" cy="455.5" rx="7" ry="5.4" fill="#18a8e0" transform="rotate(-30 12 455.5)"/>
<ellipse cx="12" cy="455.8" rx="4.2" ry="3.2" fill="#1468e0" transform="rotate(-30 12 455.8)"/>
<ellipse cx="12" cy="456" rx="1.8" ry="1.4" fill="#1040d8"/>
<ellipse cx="-1" cy="504" rx="3.5" ry="3" fill="#1480d8"/>
<ellipse cx="0" cy="419" rx="3" ry="6" fill="#18c8c0"/>
</g>
<path d="M-4 516 L15 504 L40 488 L70 469.5 L97.6 453.7" fill="none" stroke="#0a8a88" stroke-width="5" filter="url(#b1)" opacity="0.75"/>
</g>
<path d="M-1 365.6 H1.8 Q2.8 365.6 2.8 366.8 L0.9 462" fill="none" stroke="#444" stroke-width="0.8"/>
</g>
<g id="p5">
<clipPath id="c5"><path d="M148.9 491.4 L166.6 482.7 L188.3 470.8 L207.7 460 L220 453 L241 437 L257 425 L266 416.5 L273 413 L283.8 405 L300 394.5 L326.5 370.6 L353 349 L375 334.4 L444.4 334.4 L444.4 409 L420 426.5 L393 445.5 L366.5 466 L340 486 L313 506.5 L286.6 525.5 L260 546 L242.3 558.3 L213 579.4 L148.9 579.4Z"/></clipPath>
<linearGradient id="g5" x1="270" y1="405" x2="335" y2="490" gradientUnits="userSpaceOnUse"><stop offset="0" stop-color="#0e5ce8"/><stop offset="0.2" stop-color="#0a4ee2"/><stop offset="0.75" stop-color="#0a40dc"/><stop offset="1" stop-color="#0a2cc4"/></linearGradient>
<path d="M148.9 491.4 L166.6 482.7 L188.3 470.8 L207.7 460 L220 453 L241 437 L257 425 L266 416.5 L273 413 L283.8 405 L300 394.5 L326.5 370.6 L353 349 L375 334.4 L444.4 334.4 L444.4 409 L420 426.5 L393 445.5 L366.5 466 L340 486 L313 506.5 L286.6 525.5 L260 546 L242.3 558.3 L213 579.4 L148.9 579.4Z" fill="url(#g5)"/>
<g clip-path="url(#c5)">
<g filter="url(#b05)">
<path d="M372 332C383 331.1 433.7 326.9 446 332C458.3 337.1 447.9 356.6 446 362.4C444.1 368.2 438.7 364.9 434.6 366.8C430.6 368.7 425.6 371.5 421.7 374C417.8 376.5 414.1 380.7 411 382C407.9 383.3 404.8 383.5 403 382C401.2 380.5 400.2 377 400 373C399.8 369 402.2 362.3 402 358C401.8 353.7 401.2 350.1 399 347C396.8 343.9 392.2 341.3 389 339.7C385.8 338.1 382.8 338.8 380 337.5C377.2 336.2 361 332.9 372 332Z" fill="#1a94ec"/>
<path d="M398 332C405.2 330.2 438 328.7 446 332C454 335.3 447.5 348 446 351.6C444.5 355.2 440.9 352 436.8 353.8C432.8 355.6 426 360.4 421.7 362.4C417.4 364.4 413.5 366.8 411 365.7C408.5 364.6 407.8 359.8 406.5 356C405.2 352.2 404.4 347 403 343C401.6 339 390.8 333.8 398 332Z" fill="#24acee"/>
<path d="M146 489C147.6 477.6 154.4 487.1 155.8 489.5C157.2 491.9 153.6 500.3 154.7 503.3C155.8 506.3 158.5 506.4 162.3 507.6C166.1 508.9 172.4 509.7 177.4 510.8C182.4 511.9 188.4 512.5 192.6 514C196.8 515.5 200.5 517.7 202.3 519.5C204.1 521.3 204.7 523 203.4 525C202.2 527 198.4 529.2 194.8 531.4C191.2 533.5 186.5 535.4 181.8 537.9C177.1 540.4 170.9 544 166.6 546.5C162.3 549 159.2 551.1 155.8 553C152.4 554.9 147.6 568.7 146 558C144.4 547.3 144.4 500.4 146 489Z" fill="#1a94ec"/>
<path d="M146 501C149.4 494.3 159.9 509.5 166.6 512C173.3 514.5 181.1 514.2 186 516C190.9 517.8 195.4 520.5 195.8 522.7C196.2 524.9 192.1 527 188.3 529.2C184.5 531.4 178.1 533 173 535.7C167.9 538.4 162.5 542.7 158 545.4C153.5 548.1 148 559.4 146 552C144 544.6 142.6 507.7 146 501Z" fill="#24acee"/>
<path d="M212 497C212.7 494.4 215.2 490.6 218.5 488C221.8 485.4 226.8 483.6 231.5 481.6C236.2 479.6 241.6 477.7 246.7 476.2C251.8 474.7 257.1 473.3 261.8 472.5C266.5 471.7 271.1 471.1 275 471.5C278.9 471.9 282.6 472.6 285 475C287.4 477.4 289 481.8 289.5 486C290 490.2 289.2 496 288 500C286.8 504 285 507.8 282 510C279 512.2 274.1 512.6 270 513C265.9 513.4 262.2 512.9 257.5 512.4C252.8 511.9 247.4 510.8 242 510C236.6 509.2 229.6 508.7 225 507.6C220.4 506.5 216.4 505.1 214.2 503.3C212 501.5 211.3 499.6 212 497Z" fill="#0a16ba"/>
<path d="M173 562.5C172.3 559.2 176.3 555.7 179.6 553C182.9 550.3 187.5 548.5 192.6 546.5C197.7 544.5 204.2 542.2 210 541C215.8 539.8 221.8 539.3 227.2 539C232.6 538.7 237.2 538.7 242.3 539C247.4 539.3 253.4 540 257.5 541C261.6 542 266.9 543 267 545C267.1 547 262.5 549.5 258 553C253.5 556.5 247 561.2 240 566C233 570.8 222.8 579.3 216 582C209.2 584.7 204.3 583.6 199 582C193.7 580.4 188.3 575.8 184 572.5C179.7 569.2 173.7 565.8 173 562.5Z" fill="#0a16ba"/>
<path d="M380.6 384C379.2 382.2 376.9 381.3 374 382C371.1 382.7 367.2 385.2 363.3 388.4C359.4 391.6 354.3 396.3 350.3 401.4C346.3 406.4 342.4 412.6 339.5 418.7C336.6 424.8 334.1 431.9 333 438C331.9 444.1 332.2 450 333 455C333.8 460 335.8 465.2 338 468C340.2 470.8 343.3 472.7 346 472C348.7 471.3 351.5 467.3 354 464C356.5 460.7 358.7 456.3 361 452C363.3 447.7 365.8 443.2 367.6 438C369.4 432.8 370.2 425.8 372 420.8C373.8 415.8 376.6 412.6 378.4 407.9C380.2 403.2 382.3 396.7 382.7 392.7C383.1 388.7 382.1 385.8 380.6 384Z" fill="#0a16ba"/>
<path d="M440 374.3C437.6 374.9 435.9 375.2 432.5 378.5C429.1 381.8 424 389.1 419.9 394C415.8 398.9 411.6 403.3 407.9 408C404.2 412.7 400.6 417.7 397.9 422C395.2 426.3 393.7 430.2 391.9 434C390.1 437.8 388.5 441.2 387 445C385.5 448.8 382.8 454.8 383 457C383.2 459.2 385.5 460.2 388 458.5C390.5 456.8 395 450.4 398 447C401 443.6 403.9 440.8 405.9 438C407.9 435.2 407.9 433 409.9 430C411.9 427 415.2 423.3 417.9 420C420.5 416.7 423.1 413.3 425.8 410C428.5 406.7 431.1 403.3 433.8 400C436.5 396.7 439.6 392.7 441.8 390C444 387.3 446.1 386.5 447 384C447.9 381.5 448.2 376.6 447 375C445.8 373.4 442.4 373.7 440 374.3Z" fill="#0a16ba"/>
<path d="M300 432C301.5 427.2 306 419.7 310 414C314 408.3 319.3 402.5 324 398C328.7 393.5 334.3 388.7 338 387C341.7 385.3 345.3 385.8 346 388C346.7 390.2 344.3 395.3 342 400C339.7 404.7 335.7 410.7 332 416C328.3 421.3 324 427.3 320 432C316 436.7 311.2 442.2 308 444C304.8 445.8 302.3 445 301 443C299.7 441 298.5 436.8 300 432Z" fill="#0a34d8"/>
<path d="M340 365 L352 356.5 L353 358.5 L341 367Z" fill="#0a28c8"/>
</g>
<g filter="url(#b05)">
<path d="M232 458C233.7 454 241.7 448 246 444C250.3 440 253.3 437.3 258 434C262.7 430.7 268.3 428 274 424C279.7 420 286.3 414.3 292 410C297.7 405.7 303 401.3 308 398C313 394.7 318 391 322 390C326 389 330.7 389.7 332 392C333.3 394.3 331.7 399.7 330 404C328.3 408.3 322.7 412.7 322 418C321.3 423.3 324.2 430.3 326 436C327.8 441.7 331.7 446.7 333 452C334.3 457.3 334.8 462.3 334 468C333.2 473.7 330 480.7 328 486C326 491.3 324.7 496.7 322 500C319.3 503.3 315.3 506 312 506C308.7 506 304.3 503.7 302 500C299.7 496.3 300 489 298 484C296 479 294.3 473 290 470C285.7 467 278.7 466 272 466C265.3 466 256 469.7 250 470C244 470.3 239 470 236 468C233 466 230.3 462 232 458Z" fill="#1a94ec"/>
<path d="M256 440C259.7 437 266.7 433.3 272 430C277.3 426.7 283.3 423.3 288 420C292.7 416.7 296 413 300 410C304 407 309 402.3 312 402C315 401.7 317.7 404.7 318 408C318.3 411.3 314 416.7 314 422C314 427.3 316.3 434.3 318 440C319.7 445.7 323 450.7 324 456C325 461.3 325.3 468.3 324 472C322.7 475.7 319.3 477.7 316 478C312.7 478.3 308 476.7 304 474C300 471.3 296.7 465 292 462C287.3 459 281.3 457.3 276 456C270.7 454.7 264.3 455.3 260 454C255.7 452.7 250.7 450.3 250 448C249.3 445.7 252.3 443 256 440Z" fill="#24b8ec"/>
<ellipse cx="265" cy="424.5" rx="20" ry="8" fill="#22d8cc" transform="rotate(-37 265 424.5)"/>
<ellipse cx="266.5" cy="422.3" rx="16" ry="5.4" fill="#34e070" transform="rotate(-37 266.5 422.3)"/>
<ellipse cx="269" cy="419.8" rx="10" ry="3.2" fill="#84e030" transform="rotate(-37 269 419.8)"/>
<ellipse cx="290" cy="429" rx="8" ry="5" fill="#0a4ae2" transform="rotate(-15 290 429)"/>
<ellipse cx="281" cy="443" rx="8.5" ry="5.2" fill="#0a4ae2" transform="rotate(-15 281 443)"/>
<ellipse cx="314.5" cy="405.5" rx="6" ry="4.4" fill="#0a4ae2" transform="rotate(-30 314.5 405.5)"/>
<ellipse cx="322.5" cy="399.5" rx="6" ry="4.2" fill="#0a4ae2" transform="rotate(-30 322.5 399.5)"/>
<ellipse cx="242" cy="455.5" rx="10" ry="5" fill="#0a4ae2" transform="rotate(-25 242 455.5)"/>
<ellipse cx="242" cy="455.5" rx="6" ry="2.6" fill="#0828d0" transform="rotate(-25 242 455.5)"/>
<ellipse cx="290" cy="429" rx="3.6" ry="2" fill="#0a30d6" transform="rotate(-15 290 429)"/>
<ellipse cx="281" cy="443.4" rx="4" ry="2.2" fill="#0a30d6" transform="rotate(-15 281 443.4)"/>
<ellipse cx="315" cy="405" rx="3" ry="1.8" fill="#0a30d6" transform="rotate(-30 315 405)"/>
<ellipse cx="322.5" cy="399.5" rx="3" ry="1.7" fill="#0a30d6" transform="rotate(-30 322.5 399.5)"/>
<path d="M282 455C282 457.5 287.3 463.3 291 466C294.7 468.7 300 471.5 304 471C308 470.5 312.8 466.8 315 463C317.2 459.2 318 452.1 317.5 448C317 443.9 314.2 439.8 312 438.5C309.8 437.2 306.2 437.9 304 440C301.8 442.1 301.2 449.2 299 451C296.8 452.8 293.8 450.3 291 451C288.2 451.7 282 452.5 282 455Z" fill="#24dcb0"/>
<path d="M287 457.5C287.2 459.2 292.2 464.2 295 466C297.8 467.8 301.1 469.2 304 468.5C306.9 467.8 310.7 464.8 312.5 461.5C314.3 458.2 315.3 452.2 315 449C314.7 445.8 312.2 442.7 310.5 442C308.8 441.3 306.4 442.8 305 445C303.6 447.2 303.8 453.8 302 455.5C300.2 457.2 296.5 455.2 294 455.5C291.5 455.8 286.8 455.8 287 457.5Z" fill="#4ce448"/>
<path d="M292 460C292.2 461.2 295.8 465.3 298 466.5C300.2 467.7 302.8 467.9 305 467C307.2 466.1 309.8 463.6 311 461C312.2 458.4 313 453.2 312.5 451.5C312 449.8 309.6 449.8 308 451C306.4 452.2 304.8 457.1 303 458.5C301.2 459.9 298.8 459.2 297 459.5C295.2 459.8 291.8 458.8 292 460Z" fill="#c8e420"/>
<path d="M295.5 462C295 462.8 298.2 465.3 300 466C301.8 466.7 304.2 466.9 306 466C307.8 465.1 310.1 462 310.5 460.5C310.9 459 309.8 456.8 308.5 457C307.2 457.2 305.2 460.7 303 461.5C300.8 462.3 296 461.2 295.5 462Z" fill="#f09018"/>
<path d="M301 464.5C301.3 464.9 304.5 465.8 306 465C307.5 464.2 309.7 461.1 310 460C310.3 458.9 309 458.1 308 458.5C307 458.9 305.2 461.5 304 462.5C302.8 463.5 300.7 464.1 301 464.5Z" fill="#e01010"/>
<path d="M303.2 457.5 L306.2 455.2 L308.6 457.4 L305.6 460Z" fill="#28b8e8"/>
<ellipse cx="316" cy="488" rx="13.5" ry="7.4" fill="#20d4c0" transform="rotate(-35 316 488)"/>
<ellipse cx="316" cy="488" rx="10.4" ry="5" fill="#3ce088" transform="rotate(-35 316 488)"/>
<ellipse cx="316.5" cy="487.5" rx="6.8" ry="3" fill="#8ce448" transform="rotate(-35 316.5 487.5)"/>
</g>
<path d="M446 409.5 L420 428.5 L393 447.5 L366.5 468 L340 488 L313 508.5 L286.6 527.5 L260 548 L242.3 560.3 L213 581.4" fill="none" stroke="#061488" stroke-width="5" filter="url(#b1)" opacity="0.75"/>
<path d="M148.9 493 L166.6 484.5 L188.3 472.8 L207.7 462 L220 455 L241 439.5 L252 431" fill="none" stroke="#1c88ec" stroke-width="5" filter="url(#b1)" opacity="0.9"/>
<path d="M296 400 L312 386.5 L326.5 374 L353 352.5 L375 337.5 L392 336" fill="none" stroke="#1a80ea" stroke-width="6" filter="url(#b1)" opacity="0.85"/>
</g>
</g>
<g id="p6">
<clipPath id="c6"><path d="M449 498.6 L521 456 L534.3 447.3 L547.6 438 L555.6 431.3 L560 427.6 L565 426 L574.3 421.3 L587.6 412.6 L601 403.3 L612 396 L612 509.5 L601 517 L575.9 533.2 L554.2 548 L506 579.4 L449 579.4Z"/></clipPath>
<linearGradient id="g6" x1="500" y1="468" x2="545" y2="548" gradientUnits="userSpaceOnUse"><stop offset="0" stop-color="#06a4e6"/><stop offset="0.35" stop-color="#0a98de"/><stop offset="0.6" stop-color="#0a8bce"/><stop offset="0.8" stop-color="#087ebc"/><stop offset="1" stop-color="#0872aa"/></linearGradient>
<path d="M449 498.6 L521 456 L534.3 447.3 L547.6 438 L555.6 431.3 L560 427.6 L565 426 L574.3 421.3 L587.6 412.6 L601 403.3 L612 396 L612 509.5 L601 517 L575.9 533.2 L554.2 548 L506 579.4 L449 579.4Z" fill="url(#g6)"/>
<g clip-path="url(#c6)">
<g filter="url(#b05)">
<path d="M530 457C531.3 454.4 536.3 449.3 540 446C543.7 442.7 547.7 440 552 437C556.3 434 561.3 431.1 566 428C570.7 424.9 575 421.9 580 418.5C585 415.1 590.7 410.9 596 407.5C601.3 404.1 609.3 385.6 612 398C614.7 410.4 613.8 468.2 612 482C610.2 495.8 604 481.3 601 481C598 480.7 596 480.7 594 480C592 479.3 590.3 477.7 589 476.6C587.7 475.5 587.7 474.4 586 473.3C584.3 472.2 581.5 471.2 579 470C576.5 468.8 574.8 466.9 571 465.8C567.2 464.7 561.3 463.6 556 463.5C550.7 463.4 543.3 465.3 539.3 465C535.3 464.7 533.5 462.8 532 461.5C530.5 460.2 528.7 459.6 530 457Z" fill="#1cd8c4"/>
<path d="M539 452C540.7 448.9 547.8 443.7 552 440C556.2 436.3 559.7 433.1 564 430C568.3 426.9 573 424.6 578 421.5C583 418.4 588.3 414.8 594 411.5C599.7 408.2 609 391.9 612 402C615 412.1 614 461 612 472C610 483 603.7 469.3 600 468C596.3 466.7 593.7 464.8 590 464C586.3 463.2 582 463.4 578 463C574 462.6 570.3 461.8 566 461.5C561.7 461.2 556 461.5 552 461C548 460.5 544.2 460 542 458.5C539.8 457 537.3 455.1 539 452Z" fill="#30e060"/>
<path d="M556 436C556.7 434.7 562 431.4 566 429C570 426.6 575.3 424 580 421.5C584.7 419 588.7 416.6 594 414C599.3 411.4 609 398.7 612 406C615 413.3 614 450 612 458C610 466 604 455.7 600 454C596 452.3 592.3 450.2 588 448C583.7 445.8 578.3 442.8 574 441C569.7 439.2 565 437.8 562 437C559 436.2 555.3 437.3 556 436Z" fill="#48e42c"/>
<ellipse cx="557" cy="449.5" rx="2" ry="6" fill="#22dcc8" transform="rotate(-50 557 449.5)"/>
<ellipse cx="571" cy="454" rx="2" ry="5" fill="#22dcc8" transform="rotate(-50 571 454)"/>
<ellipse cx="586" cy="430" rx="10.5" ry="4.6" fill="#b4e820" transform="rotate(28 586 430)"/>
<ellipse cx="586" cy="430" rx="8.4" ry="3.3" fill="#ecd418" transform="rotate(28 586 430)"/>
<ellipse cx="586" cy="430" rx="5.9" ry="2.1" fill="#f07c14" transform="rotate(28 586 430)"/>
<ellipse cx="573" cy="439.5" rx="10" ry="4.4" fill="#b4e820" transform="rotate(28 573 439.5)"/>
<ellipse cx="573" cy="439.5" rx="8" ry="3.2" fill="#ecd418" transform="rotate(28 573 439.5)"/>
<ellipse cx="573" cy="439.5" rx="5.6" ry="2" fill="#f07c14" transform="rotate(28 573 439.5)"/>
<ellipse cx="600" cy="421.5" rx="9" ry="4" fill="#b4e820" transform="rotate(28 600 421.5)"/>
<ellipse cx="600" cy="421.5" rx="7.2" ry="2.9" fill="#ecd418" transform="rotate(28 600 421.5)"/>
<ellipse cx="600" cy="421.5" rx="5" ry="1.8" fill="#f07c14" transform="rotate(28 600 421.5)"/>
<ellipse cx="562" cy="445" rx="7.5" ry="3.6" fill="#7ce428" transform="rotate(28 562 445)"/>
<ellipse cx="562" cy="445" rx="4.1" ry="1.8" fill="#c0e820" transform="rotate(28 562 445)"/>
<ellipse cx="550" cy="453" rx="8.5" ry="4" fill="#7ce428" transform="rotate(28 550 453)"/>
<ellipse cx="550" cy="453" rx="4.7" ry="2" fill="#c0e820" transform="rotate(28 550 453)"/>
<ellipse cx="578" cy="450.5" rx="6" ry="3" fill="#7ce428" transform="rotate(28 578 450.5)"/>
<ellipse cx="578" cy="450.5" rx="3.3" ry="1.5" fill="#c0e820" transform="rotate(28 578 450.5)"/>
<ellipse cx="561" cy="430" rx="8.5" ry="3.6" fill="#f0c018" transform="rotate(-30 561 430)"/>
<ellipse cx="560.5" cy="429.6" rx="7" ry="2.6" fill="#f06a10" transform="rotate(-30 560.5 429.6)"/>
<ellipse cx="559.5" cy="429.8" rx="4.5" ry="1.6" fill="#e83410" transform="rotate(-30 559.5 429.8)"/>
<path d="M586 447C587.2 445.4 589.7 443.8 594 444.5C598.3 445.2 609 446.1 612 451C615 455.9 613.8 470.7 612 474C610.2 477.3 604.3 472.8 601 471C597.7 469.2 594.4 465.8 592 463C589.6 460.2 587.5 456.7 586.5 454C585.5 451.3 584.8 448.6 586 447Z" fill="#d8e420"/>
<path d="M589 448.5C590 447.3 591.7 445.9 595.5 446.8C599.3 447.7 609.2 450 612 454C614.8 458 613.8 468.7 612 471C610.2 473.3 604 469.7 601 468C598 466.3 595.9 463.3 594 461C592.1 458.7 590.3 456.1 589.5 454C588.7 451.9 588 449.7 589 448.5Z" fill="#f0a018"/>
<path d="M592 450.5C592.4 449.1 594.7 448.9 598 450C601.3 451.1 609.7 453.8 612 457C614.3 460.2 613.8 467.7 612 469C610.2 470.3 603.8 466.8 601 465C598.2 463.2 597 460.9 595.5 458.5C594 456.1 591.6 451.9 592 450.5Z" fill="#ee5210"/>
<path d="M562.6 520.5C562.4 518.2 563.6 513.7 565 510C566.4 506.3 568.7 501.9 571 498.3C573.3 494.7 576.2 491 579 488.3C581.8 485.6 585 483.9 587.5 482.4C590 480.8 589.9 479.7 594 479C598.1 478.3 609 474 612 478C615 482 613.8 497.9 612 503C610.2 508.1 605.1 506.2 601 508.5C596.9 510.8 591.7 514.4 587.5 516.6C583.3 518.8 579.6 520.3 576 521.5C572.4 522.7 568.2 524.2 566 524C563.8 523.8 562.8 522.8 562.6 520.5Z" fill="#18ccc0"/>
<path d="M592 480C591.8 481.3 595.5 486.3 596 490C596.5 493.7 594.7 501.7 595 502C595.3 502.3 597.7 495.3 598 492C598.3 488.7 598 484 597 482C596 480 592.2 478.7 592 480Z" fill="#30dc70"/>
<ellipse cx="593.4" cy="474" rx="1.8" ry="4" fill="#1050e0" transform="rotate(-15 593.4 474)"/>
<ellipse cx="596" cy="470" rx="4" ry="6" fill="#18b8e8" transform="rotate(-15 596 470)" opacity="0.6"/>
</g>
<path d="M559.6 430.6C561.7 431.6 567.9 434.3 572 436.4C576.1 438.5 581 441.2 584 443C587 444.8 587.2 445 590 447C592.8 449 599.2 453.7 601 455" fill="none" stroke="#3a5a20" stroke-width="0.6" opacity="0.8"/>
<path d="M612 511.5 L601 519 L575.9 535.2 L554.2 550 L506 581.4" fill="none" stroke="#0868b8" stroke-width="5" filter="url(#b1)" opacity="0.5"/>
</g>
</g>
<g id="legends">
<rect x="163.4" y="23.6" width="49.9" height="103.2" rx="1" fill="#fff" stroke="#9a9a9a" stroke-width="0.8"/>
<g fill="#333" stroke="#333" stroke-width="0.14">
<text x="168" y="34" font-size="4.3" textLength="17" lengthAdjust="spacingAndGlyphs">S, Mises</text>
<text x="168" y="39.6" font-size="4.3" textLength="24" lengthAdjust="spacingAndGlyphs">(Avg: 75%)</text>
<rect x="167.4" y="44.60" width="7" height="4.83" fill="#ff0000"/>
<rect x="167.4" y="49.33" width="7" height="4.83" fill="#ff5d00"/>
<rect x="167.4" y="54.07" width="7" height="4.83" fill="#ffb900"/>
<rect x="167.4" y="58.80" width="7" height="4.83" fill="#e8ff00"/>
<rect x="167.4" y="63.53" width="7" height="4.83" fill="#8bff00"/>
<rect x="167.4" y="68.27" width="7" height="4.83" fill="#2eff00"/>
<rect x="167.4" y="73.00" width="7" height="4.83" fill="#00ff2e"/>
<rect x="167.4" y="77.73" width="7" height="4.83" fill="#00ff8b"/>
<rect x="167.4" y="82.47" width="7" height="4.83" fill="#00ffe8"/>
<rect x="167.4" y="87.20" width="7" height="4.83" fill="#00b9ff"/>
<rect x="167.4" y="91.93" width="7" height="4.83" fill="#005dff"/>
<rect x="167.4" y="96.67" width="7" height="4.83" fill="#0000ff"/>
<rect x="173" y="44.40" width="3.4" height="0.45" fill="#333" stroke="none"/>
<text x="178" y="46" font-size="4.3" textLength="24" lengthAdjust="spacingAndGlyphs">+5.255e+08</text>
<rect x="173" y="49.13" width="3.4" height="0.45" fill="#333" stroke="none"/>
<text x="178" y="50.8" font-size="4.3" textLength="24" lengthAdjust="spacingAndGlyphs">+4.852e+08</text>
<rect x="173" y="53.87" width="3.4" height="0.45" fill="#333" stroke="none"/>
<text x="178" y="55.5" font-size="4.3" textLength="24" lengthAdjust="spacingAndGlyphs">+4.415e+08</text>
<rect x="173" y="58.60" width="3.4" height="0.45" fill="#333" stroke="none"/>
<text x="178" y="60.2" font-size="4.3" textLength="24" lengthAdjust="spacingAndGlyphs">+3.974e+08</text>
<rect x="173" y="63.33" width="3.4" height="0.45" fill="#333" stroke="none"/>
<text x="178" y="65" font-size="4.3" textLength="24" lengthAdjust="spacingAndGlyphs">+3.534e+08</text>
<rect x="173" y="68.07" width="3.4" height="0.45" fill="#333" stroke="none"/>
<text x="178" y="69.7" font-size="4.3" textLength="24" lengthAdjust="spacingAndGlyphs">+3.095e+08</text>
<rect x="173" y="72.80" width="3.4" height="0.45" fill="#333" stroke="none"/>
<text x="178" y="74.4" font-size="4.3" textLength="24" lengthAdjust="spacingAndGlyphs">+2.656e+08</text>
<rect x="173" y="77.53" width="3.4" height="0.45" fill="#333" stroke="none"/>
<text x="178" y="79.2" font-size="4.3" textLength="24" lengthAdjust="spacingAndGlyphs">+2.217e+08</text>
<rect x="173" y="82.27" width="3.4" height="0.45" fill="#333" stroke="none"/>
<text x="178" y="83.9" font-size="4.3" textLength="24" lengthAdjust="spacingAndGlyphs">+1.778e+08</text>
<rect x="173" y="87.00" width="3.4" height="0.45" fill="#333" stroke="none"/>
<text x="178" y="88.6" font-size="4.3" textLength="24" lengthAdjust="spacingAndGlyphs">+1.339e+08</text>
<rect x="173" y="91.73" width="3.4" height="0.45" fill="#333" stroke="none"/>
<text x="178" y="93.4" font-size="4.3" textLength="24" lengthAdjust="spacingAndGlyphs">+8.998e+07</text>
<rect x="173" y="96.47" width="3.4" height="0.45" fill="#333" stroke="none"/>
<text x="178" y="98.1" font-size="4.3" textLength="24" lengthAdjust="spacingAndGlyphs">+4.607e+07</text>
<rect x="173" y="101.20" width="3.4" height="0.45" fill="#333" stroke="none"/>
<text x="178" y="102.8" font-size="4.3" textLength="24" lengthAdjust="spacingAndGlyphs">+2.160e+06</text>
<text x="167.4" y="109.3" font-size="4.3" textLength="37.1" lengthAdjust="spacingAndGlyphs">Max: +5.291e+08</text>
<text x="170.6" y="114.9" font-size="4.3" textLength="37.9" lengthAdjust="spacingAndGlyphs">Elem: PIPE-1.7553</text>
<text x="170.6" y="120.8" font-size="4.3" textLength="25.9" lengthAdjust="spacingAndGlyphs">Node: 17745</text>
</g>
<rect x="459.3" y="22.8" width="48.2" height="101" rx="1" fill="#fff" stroke="#9a9a9a" stroke-width="0.8"/>
<g fill="#333" stroke="#333" stroke-width="0.14">
<text x="463.3" y="33" font-size="4.2" textLength="16.9" lengthAdjust="spacingAndGlyphs">S, Mises</text>
<text x="463.3" y="38.4" font-size="4.2" textLength="23.6" lengthAdjust="spacingAndGlyphs">(Avg: 75%)</text>
<rect x="463.3" y="42.50" width="6.3" height="4.71" fill="#ff0000"/>
<rect x="463.3" y="47.11" width="6.3" height="4.71" fill="#ff5d00"/>
<rect x="463.3" y="51.72" width="6.3" height="4.71" fill="#ffb900"/>
<rect x="463.3" y="56.33" width="6.3" height="4.71" fill="#e8ff00"/>
<rect x="463.3" y="60.93" width="6.3" height="4.71" fill="#8bff00"/>
<rect x="463.3" y="65.54" width="6.3" height="4.71" fill="#2eff00"/>
<rect x="463.3" y="70.15" width="6.3" height="4.71" fill="#00ff2e"/>
<rect x="463.3" y="74.76" width="6.3" height="4.71" fill="#00ff8b"/>
<rect x="463.3" y="79.37" width="6.3" height="4.71" fill="#00ffe8"/>
<rect x="463.3" y="83.97" width="6.3" height="4.71" fill="#00b9ff"/>
<rect x="463.3" y="88.58" width="6.3" height="4.71" fill="#005dff"/>
<rect x="463.3" y="93.19" width="6.3" height="4.71" fill="#0000ff"/>
<rect x="468.2" y="42.30" width="3.4" height="0.45" fill="#333" stroke="none"/>
<text x="472.7" y="43.9" font-size="4.2" textLength="24.9" lengthAdjust="spacingAndGlyphs">+5.104e+08</text>
<rect x="468.2" y="46.91" width="3.4" height="0.45" fill="#333" stroke="none"/>
<text x="472.7" y="48.5" font-size="4.2" textLength="24.9" lengthAdjust="spacingAndGlyphs">+4.725e+08</text>
<rect x="468.2" y="51.52" width="3.4" height="0.45" fill="#333" stroke="none"/>
<text x="472.7" y="53.1" font-size="4.2" textLength="24.9" lengthAdjust="spacingAndGlyphs">+4.347e+08</text>
<rect x="468.2" y="56.12" width="3.4" height="0.45" fill="#333" stroke="none"/>
<text x="472.7" y="57.7" font-size="4.2" textLength="24.9" lengthAdjust="spacingAndGlyphs">+3.969e+08</text>
<rect x="468.2" y="60.73" width="3.4" height="0.45" fill="#333" stroke="none"/>
<text x="472.7" y="62.3" font-size="4.2" textLength="24.9" lengthAdjust="spacingAndGlyphs">+3.590e+08</text>
<rect x="468.2" y="65.34" width="3.4" height="0.45" fill="#333" stroke="none"/>
<text x="472.7" y="66.9" font-size="4.2" textLength="24.9" lengthAdjust="spacingAndGlyphs">+3.212e+08</text>
<rect x="468.2" y="69.95" width="3.4" height="0.45" fill="#333" stroke="none"/>
<text x="472.7" y="71.5" font-size="4.2" textLength="24.9" lengthAdjust="spacingAndGlyphs">+2.833e+08</text>
<rect x="468.2" y="74.56" width="3.4" height="0.45" fill="#333" stroke="none"/>
<text x="472.7" y="76.1" font-size="4.2" textLength="24.9" lengthAdjust="spacingAndGlyphs">+2.455e+08</text>
<rect x="468.2" y="79.17" width="3.4" height="0.45" fill="#333" stroke="none"/>
<text x="472.7" y="80.8" font-size="4.2" textLength="24.9" lengthAdjust="spacingAndGlyphs">+2.077e+08</text>
<rect x="468.2" y="83.77" width="3.4" height="0.45" fill="#333" stroke="none"/>
<text x="472.7" y="85.4" font-size="4.2" textLength="24.9" lengthAdjust="spacingAndGlyphs">+1.698e+08</text>
<rect x="468.2" y="88.38" width="3.4" height="0.45" fill="#333" stroke="none"/>
<text x="472.7" y="90" font-size="4.2" textLength="24.9" lengthAdjust="spacingAndGlyphs">+1.320e+08</text>
<rect x="468.2" y="92.99" width="3.4" height="0.45" fill="#333" stroke="none"/>
<text x="472.7" y="94.6" font-size="4.2" textLength="24.9" lengthAdjust="spacingAndGlyphs">+9.413e+07</text>
<rect x="468.2" y="97.60" width="3.4" height="0.45" fill="#333" stroke="none"/>
<text x="472.7" y="99.2" font-size="4.2" textLength="24.9" lengthAdjust="spacingAndGlyphs">+5.628e+07</text>
<text x="463.3" y="105.8" font-size="4.2" textLength="35.1" lengthAdjust="spacingAndGlyphs">Max: +5.104e+08</text>
<text x="466" y="112" font-size="4.2" textLength="37.5" lengthAdjust="spacingAndGlyphs">Elem: PIPE-1.2280</text>
<text x="466" y="117.9" font-size="4.2" textLength="17.7" lengthAdjust="spacingAndGlyphs">Node: 8774</text>
</g>
<g filter="url(#b03)">
<path d="M137.2 40.7 L137.2 30.5 A8.8 10.2 0 0 1 146 40.7 Z" fill="#7ac8cc" stroke="#a898cc" stroke-width="0.4"/>
<rect x="136.9" y="27.3" width="0.6" height="21.7" fill="#9486c6"/>
<rect x="132.6" y="48.8" width="11" height="0.7" fill="#9c9cd8"/>
<rect x="136.5" y="27.1" width="1.3" height="1.3" fill="#6a58b0"/>
<circle cx="137.3" cy="49" r="1.4" fill="#e00010"/>
<circle cx="137.2" cy="24.3" r="0.75" fill="#e4d44a"/>
<circle cx="137" cy="40.8" r="0.75" fill="#e4d44a"/>
<circle cx="148" cy="40.7" r="0.75" fill="#e4d44a"/>
</g>
<g filter="url(#b03)">
<path d="M427.5 39.5 L427.5 29.6 A9 9.9 0 0 1 436.5 39.5 Z" fill="#7ac8cc" stroke="#a898cc" stroke-width="0.4"/>
<rect x="427.2" y="26.5" width="0.6" height="21.3" fill="#9486c6"/>
<rect x="422.9" y="47.6" width="11" height="0.7" fill="#9c9cd8"/>
<rect x="426.9" y="26.3" width="1.3" height="1.3" fill="#6a58b0"/>
<circle cx="427.6" cy="47.8" r="1.4" fill="#e00010"/>
<circle cx="427.5" cy="23.5" r="0.75" fill="#e4d44a"/>
<circle cx="427.3" cy="39.6" r="0.75" fill="#e4d44a"/>
<circle cx="438.5" cy="39.5" r="0.75" fill="#e4d44a"/>
</g>
<path d="M181 188.6 V179.6" stroke="#18c030" stroke-width="1" fill="none"/>
<path d="M181 177.6 l1.5 3 h-3z" fill="#18c030"/>
<path d="M181 188.6 H188" stroke="#e02020" stroke-width="1" fill="none"/>
<path d="M190 188.6 l-3 -1.5 v3z" fill="#e02020"/>
<circle cx="181" cy="188.6" r="1.2" fill="#1020a0"/>
<text x="180.1" y="174.6" font-size="2.8" fill="#222">Y</text>
<text x="192" y="189.6" font-size="2.8" fill="#222">X</text>
<path d="M476.6 183 V174" stroke="#18c030" stroke-width="1" fill="none"/>
<path d="M476.6 172 l1.5 3 h-3z" fill="#18c030"/>
<path d="M476.6 183 H483.6" stroke="#e02020" stroke-width="1" fill="none"/>
<path d="M485.6 183 l-3 -1.5 v3z" fill="#e02020"/>
<circle cx="476.6" cy="183" r="1.2" fill="#1020a0"/>
<text x="475.7" y="169" font-size="2.8" fill="#222">Y</text>
<text x="487.6" y="184" font-size="2.8" fill="#222">X</text>
<g fill="#222" stroke="#222" stroke-width="0.1">
<text x="197" y="170.4" font-size="2.9" textLength="76" lengthAdjust="spacingAndGlyphs" font-weight="bold">Penyok pipa dengan indenter: springback analisis model pipa 3D</text>
<text x="197" y="172.9" font-size="2.7" textLength="131" lengthAdjust="spacingAndGlyphs">ODB: Job-pipa.odb    Abaqus/Standard 6.11-1    Sun May 05 22:36:37 SE Asia Standard Time 2013</text>
<text x="197" y="184.8" font-size="2.7" textLength="14" lengthAdjust="spacingAndGlyphs">Step: Step-1</text>
<text x="197" y="187.3" font-size="2.7" textLength="40" lengthAdjust="spacingAndGlyphs">Increment     36: Step Time =    1.000</text>
<text x="197" y="189.9" font-size="2.7" textLength="25" lengthAdjust="spacingAndGlyphs">Primary Var: S, Mises</text>
<text x="197" y="192.5" font-size="2.7" textLength="62" lengthAdjust="spacingAndGlyphs">Deformed Var: U   Deformation Scale Factor: +1.000e+00</text>
</g>
<g fill="#222" stroke="#222" stroke-width="0.1">
<text x="492" y="165.4" font-size="2.9" textLength="76" lengthAdjust="spacingAndGlyphs" font-weight="bold">Penyok pipa dengan indenter: springback analisis model pipa 3D</text>
<text x="492" y="167.9" font-size="2.7" textLength="133" lengthAdjust="spacingAndGlyphs">ODB: Job-pipa.odb    Abaqus/Standard 6.11-1    Sun May 05 01:14:22 SE Asia Standard Time 2013</text>
<text x="492" y="179.4" font-size="2.7" textLength="12" lengthAdjust="spacingAndGlyphs">Step: Step-1</text>
<text x="492" y="181.9" font-size="2.7" textLength="38" lengthAdjust="spacingAndGlyphs">Increment     36: Step Time =    1.000</text>
<text x="492" y="184.5" font-size="2.7" textLength="18" lengthAdjust="spacingAndGlyphs">Primary Var: S, Mises</text>
<text x="492" y="187.1" font-size="2.7" textLength="60" lengthAdjust="spacingAndGlyphs">Deformed Var: U   Deformation Scale Factor: +1.000e+00</text>
</g>
<g fill="#333" stroke="#333" stroke-width="0.1">
<text x="215.8" y="73" font-size="4.3" textLength="37.2" lengthAdjust="spacingAndGlyphs">Max: +5.291e+008</text>
</g>
<path d="M240 73.2 L252.6 82" stroke="#444" stroke-width="0.5" fill="none"/>
<text x="0" y="175.8" font-size="2.7" textLength="19.5" lengthAdjust="spacingAndGlyphs" fill="#222">Deformation Scale Factor: +1.000e+00</text>
<g fill="#111" stroke="#111" stroke-width="0.22">
<text x="148.7" y="564.7" font-size="5.2" textLength="18.7" lengthAdjust="spacingAndGlyphs">erence on</text>
<text x="148.7" y="569.7" font-size="5.2" textLength="19.4" lengthAdjust="spacingAndGlyphs">rd 6.11-1</text>
<text x="173" y="569.7" font-size="5.2" textLength="105" lengthAdjust="spacingAndGlyphs">Sun May 05 22:36:37 SE Asia Standard Time 2013</text>
<text x="453.7" y="563.6" font-size="5.2" textLength="111.8" lengthAdjust="spacingAndGlyphs">Sun May 05 01:14:22 SE Asia Standard Time 2013</text>
<text x="449.1" y="558.2" font-size="3.4">1</text>
</g>
</g>
</svg>
</body></html>
